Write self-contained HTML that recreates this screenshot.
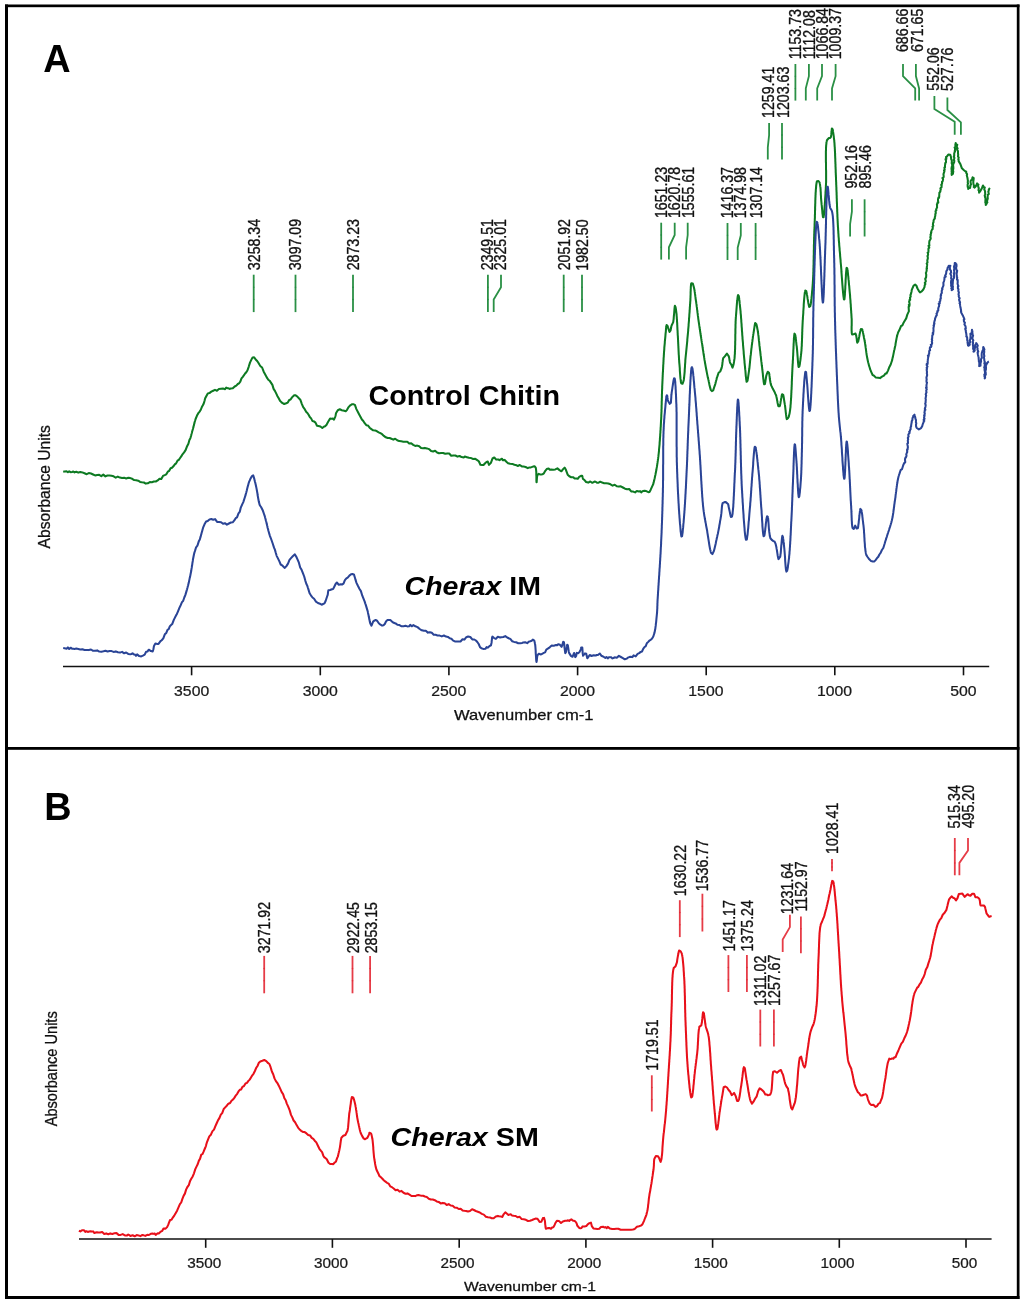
<!DOCTYPE html>
<html><head><meta charset="utf-8"><title>FTIR spectra</title>
<style>
html,body{margin:0;padding:0;background:#fff;}
body{width:1024px;height:1301px;overflow:hidden;}
svg{display:block;will-change:transform;}
text{font-family:"Liberation Sans",sans-serif;fill:#111;}
.lb{font-size:14.2px;stroke:#111;stroke-width:0.3px;}
.tk{fill:#1a1a1a;stroke:#1a1a1a;stroke-width:0.25px;}
.xl,.yl{stroke:#111;stroke-width:0.25px;}
.ax{stroke:#111;stroke-width:1.6;fill:none;}
.ti{font-weight:bold;fill:#000;}
.nm{font-weight:bold;fill:#000;}
</style></head><body>
<svg width="1024" height="1301" viewBox="0 0 1024 1301">
<rect x="0" y="0" width="1024" height="1301" fill="#fff"/>
<g fill="none" stroke-width="2.05" stroke-linejoin="round" stroke-linecap="butt">
<path d="M63.2,471.8 L64.6,471.5 L66.6,471.3 L67.9,472.3 L69.2,471.3 L70.6,472.2 L72.0,472.0 L73.3,471.5 L74.5,472.4 L76.3,471.7 L78.3,472.6 L80.3,472.1 L82.4,472.4 L84.5,473.2 L86.7,474.2 L88.8,473.1 L91.0,473.5 L93.1,474.5 L95.1,475.4 L97.2,474.9 L99.2,474.8 L101.3,476.1 L103.3,474.6 L105.4,476.4 L107.4,475.5 L109.5,475.5 L111.5,475.7 L113.6,476.3 L115.7,477.6 L117.8,476.6 L119.9,477.6 L122.0,478.0 L124.2,477.8 L126.2,478.4 L128.3,477.8 L130.3,478.1 L132.2,478.8 L134.2,480.1 L136.2,480.2 L138.2,480.7 L140.1,481.9 L142.0,482.3 L143.9,482.5 L145.8,483.6 L147.8,483.3 L149.8,482.1 L151.9,482.2 L153.9,481.5 L155.8,481.5 L157.7,480.4 L159.5,478.7 L161.3,478.9 L163.0,475.9 L164.7,475.1 L166.3,474.3 L167.8,471.7 L169.2,470.8 L170.6,468.3 L172.0,467.8 L173.4,466.3 L174.8,464.4 L176.1,463.4 L177.5,460.7 L178.8,459.8 L180.1,458.0 L181.4,456.2 L182.5,454.3 L184.1,452.4 L185.7,449.9 L187.1,446.2 L188.4,443.7 L189.5,439.7 L190.2,438.6 L190.5,437.7 L190.8,436.7 L191.1,435.7 L191.3,434.7 L191.6,433.8 L191.9,432.8 L192.1,431.8 L192.4,430.8 L192.7,429.8 L193.0,428.8 L193.2,427.9 L193.5,426.9 L193.7,425.9 L194.0,424.9 L194.2,423.9 L194.5,422.9 L194.7,421.9 L195.0,421.0 L195.3,420.0 L195.6,419.0 L197.0,415.6 L198.6,412.7 L199.7,411.6 L200.9,409.5 L202.0,406.7 L203.4,404.3 L204.1,402.4 L204.4,401.3 L204.7,400.3 L204.9,399.3 L205.2,398.3 L206.4,396.0 L207.8,393.4 L209.4,393.1 L211.3,391.6 L213.2,390.7 L215.0,389.9 L216.9,390.7 L218.9,389.0 L220.9,388.8 L223.0,388.6 L225.1,389.2 L226.2,387.6 L227.4,388.2 L228.5,388.3 L229.6,388.9 L230.7,388.6 L232.8,388.3 L234.7,386.5 L236.3,385.6 L237.8,384.0 L239.0,383.3 L240.3,381.7 L241.5,378.4 L242.8,376.8 L244.0,375.2 L245.1,373.5 L246.3,372.2 L247.4,370.5 L248.7,366.8 L250.0,362.6 L251.3,359.9 L252.6,357.4 L254.1,357.3 L255.5,359.2 L256.9,360.7 L258.2,362.5 L259.4,364.5 L260.5,366.2 L262.1,367.5 L263.7,371.7 L265.1,374.2 L266.6,377.1 L268.3,379.7 L269.6,380.7 L270.9,382.6 L272.4,384.9 L273.6,388.9 L274.9,390.9 L276.4,393.9 L277.5,396.2 L278.7,398.3 L280.0,400.8 L281.3,402.1 L282.6,403.2 L284.2,404.0 L286.2,403.3 L287.8,402.6 L289.2,400.0 L290.6,399.5 L292.0,397.4 L294.2,395.2 L295.3,395.2 L297.1,396.4 L298.9,398.3 L300.3,399.7 L301.8,403.8 L303.2,407.2 L304.7,409.2 L306.3,412.0 L307.4,413.0 L308.6,414.8 L309.8,417.0 L311.1,418.4 L312.5,421.1 L314.0,421.4 L315.5,422.6 L317.0,425.7 L318.4,426.0 L320.4,426.5 L322.3,428.0 L323.8,426.7 L325.1,426.3 L326.4,425.1 L327.6,422.8 L328.9,420.6 L330.1,418.6 L331.5,418.7 L332.8,418.6 L334.0,419.6 L335.3,416.6 L335.6,415.5 L335.8,414.3 L336.1,413.1 L337.8,410.2 L339.8,409.3 L341.8,410.2 L344.3,410.8 L345.7,411.3 L346.9,410.1 L348.6,407.1 L350.3,405.3 L352.2,404.2 L353.7,404.3 L354.9,404.9 L356.4,409.1 L357.9,412.0 L359.2,414.4 L360.7,417.3 L361.9,419.5 L363.3,421.0 L364.7,423.2 L366.3,425.2 L368.0,425.5 L369.6,427.7 L371.4,429.1 L373.2,430.3 L375.1,430.4 L377.0,431.3 L378.7,432.3 L380.4,433.2 L382.1,434.2 L383.9,435.9 L385.8,437.3 L387.7,438.0 L389.6,438.0 L391.4,438.8 L393.3,439.6 L395.2,438.7 L397.2,440.2 L399.2,441.1 L401.2,441.3 L403.3,441.7 L405.3,441.7 L407.3,441.7 L409.2,443.5 L411.2,443.3 L413.2,444.9 L415.2,445.9 L417.2,445.6 L419.2,446.3 L421.1,448.1 L423.0,448.3 L424.9,447.9 L426.9,448.4 L429.0,449.1 L431.1,451.1 L433.1,451.5 L435.1,450.7 L437.1,452.5 L439.0,453.3 L441.1,453.1 L443.1,453.0 L445.2,453.8 L447.2,453.4 L449.2,453.5 L451.2,455.7 L453.3,455.4 L455.4,455.5 L457.5,456.6 L459.6,456.0 L461.6,457.1 L463.7,457.5 L464.8,456.6 L466.9,457.2 L469.0,457.8 L471.1,458.1 L473.2,459.0 L475.3,458.8 L477.2,460.1 L478.8,461.3 L480.4,464.7 L482.0,464.9 L483.5,465.0 L485.1,463.2 L486.5,462.0 L487.8,461.6 L489.0,464.9 L490.9,462.9 L492.1,459.7 L492.5,458.5 L494.3,457.5 L496.2,459.6 L498.3,459.5 L499.5,460.1 L500.7,459.3 L501.9,458.7 L503.0,460.3 L504.7,459.9 L506.4,461.7 L508.1,463.3 L510.1,463.8 L512.3,463.9 L514.4,464.8 L516.6,465.3 L517.7,466.0 L519.8,465.0 L521.8,466.4 L523.6,466.6 L525.6,467.0 L527.8,468.1 L528.9,467.6 L530.9,467.4 L533.0,466.6 L534.7,466.2 L535.8,467.9 L536.0,469.2 L536.1,470.0 L536.2,471.1 L536.3,472.2 L536.3,473.6 L536.3,474.9 L536.4,476.3 L536.4,477.7 L536.4,478.9 L536.4,480.1 L536.4,481.1 L536.5,481.8 L536.5,482.3 L536.7,482.2 L536.7,481.4 L536.8,480.2 L536.9,478.8 L537.0,477.4 L537.2,476.1 L537.5,475.0 L538.8,473.9 L540.0,474.4 L541.2,474.5 L542.4,474.3 L543.9,473.3 L545.3,470.8 L546.7,469.1 L548.6,468.5 L549.9,469.8 L551.2,469.6 L553.2,469.7 L555.3,469.4 L557.4,468.4 L559.5,470.1 L561.4,471.3 L563.1,469.1 L564.6,467.6 L565.9,469.8 L567.3,473.6 L567.7,474.8 L569.3,476.3 L571.2,477.2 L573.3,477.2 L574.4,478.4 L576.8,478.6 L578.0,478.6 L579.2,476.8 L581.0,475.8 L582.1,475.7 L582.4,476.4 L582.7,477.8 L583.0,479.0 L584.3,479.9 L586.1,482.0 L588.2,482.6 L590.3,481.5 L592.3,482.8 L594.5,481.6 L595.7,481.8 L597.0,482.8 L598.6,482.7 L600.3,481.7 L602.1,482.6 L604.1,483.2 L606.2,483.3 L608.3,483.5 L610.5,484.3 L612.6,485.6 L614.7,484.7 L616.8,486.3 L618.8,486.6 L620.8,486.3 L622.9,487.5 L625.0,488.7 L627.1,489.2 L629.2,489.0 L631.2,491.4 L633.2,491.6 L635.1,492.4 L636.8,491.0 L638.9,491.5 L640.1,491.1 L641.2,492.4 L642.4,491.3 L644.4,490.8 L646.2,491.1 L648.4,492.2 L649.5,492.0 L650.7,489.7 L652.3,486.1 L653.2,484.3 L653.4,483.4 L653.7,482.4 L653.9,481.4 L654.2,480.4 L654.4,479.3 L654.7,478.2 L654.9,477.1 L655.1,476.0 L655.4,474.9 L655.6,473.8 L655.8,472.7 L656.0,471.7 L656.2,470.8 L656.4,469.8 L656.5,468.9 L656.7,467.9 L656.9,466.9 L657.0,465.9 L657.2,465.0 L657.3,464.0 L657.5,462.9 L657.6,461.9 L657.8,460.9 L657.9,459.8 L658.1,458.7 L658.2,457.6 L658.4,456.4 L658.5,455.2 L658.6,454.4 L658.7,453.5 L658.8,452.6 L658.9,451.7 L659.0,450.8 L659.0,449.9 L659.1,448.9 L659.2,448.0 L659.3,447.0 L659.4,446.0 L659.5,445.0 L659.6,444.0 L659.6,443.0 L659.7,441.9 L659.8,440.9 L659.9,439.9 L659.9,438.8 L660.0,437.8 L660.1,436.7 L660.2,435.6 L660.2,434.6 L660.3,433.5 L660.4,432.5 L660.4,431.4 L660.5,430.3 L660.6,429.3 L660.6,428.2 L660.7,427.2 L660.8,426.1 L660.8,425.1 L660.9,424.0 L660.9,423.0 L661.0,422.0 L661.0,421.0 L661.1,420.0 L661.2,419.0 L661.2,417.9 L661.3,416.9 L661.3,415.9 L661.3,414.8 L661.4,413.8 L661.4,412.8 L661.5,411.8 L661.5,410.7 L661.5,409.7 L661.6,408.7 L661.6,407.7 L661.6,406.7 L661.6,405.7 L661.7,404.6 L661.7,403.6 L661.7,402.6 L661.7,401.6 L661.8,400.6 L661.8,399.6 L661.8,398.5 L661.9,397.5 L661.9,396.5 L661.9,395.5 L661.9,394.5 L662.0,393.4 L662.0,392.4 L662.0,391.4 L662.1,390.3 L662.1,389.3 L662.2,388.2 L662.2,387.2 L662.2,386.2 L662.3,385.2 L662.3,384.1 L662.4,383.1 L662.4,382.0 L662.5,380.9 L662.5,379.9 L662.6,378.8 L662.6,377.7 L662.7,376.6 L662.7,375.5 L662.8,374.4 L662.8,373.3 L662.9,372.2 L663.0,371.1 L663.0,370.0 L663.1,368.9 L663.1,367.8 L663.2,366.7 L663.2,365.6 L663.3,364.5 L663.4,363.5 L663.4,362.4 L663.5,361.4 L663.5,360.4 L663.6,359.4 L663.6,358.4 L663.7,357.4 L663.8,356.5 L663.8,355.6 L663.9,354.7 L663.9,353.8 L664.0,352.9 L664.0,352.1 L664.1,351.3 L664.2,350.1 L664.3,348.9 L664.3,347.8 L664.4,346.8 L664.5,345.8 L664.6,344.8 L664.7,343.8 L664.8,342.9 L664.8,341.9 L664.9,341.0 L665.0,340.1 L665.1,339.1 L665.2,338.2 L665.3,337.2 L665.4,336.0 L665.5,334.7 L665.6,333.4 L665.8,332.0 L665.9,330.5 L666.0,329.2 L666.1,327.9 L666.3,326.8 L666.4,325.8 L666.6,325.1 L667.6,326.0 L668.0,327.4 L669.5,332.0 L670.6,330.4 L670.8,329.2 L671.1,327.8 L671.3,326.5 L671.6,325.5 L673.1,322.4 L673.3,321.6 L673.4,320.6 L673.6,319.5 L673.7,318.3 L673.8,316.9 L673.9,315.6 L674.1,314.1 L674.2,312.7 L674.3,311.3 L674.4,310.0 L674.5,308.8 L674.6,307.8 L674.7,306.9 L674.8,306.2 L674.9,305.8 L675.4,306.7 L675.7,307.8 L675.9,309.2 L676.1,310.7 L676.3,312.2 L676.4,312.9 L676.5,313.7 L676.6,314.5 L676.6,315.4 L676.7,316.3 L676.8,317.2 L676.8,318.2 L676.9,319.2 L677.0,320.2 L677.0,321.3 L677.1,322.3 L677.2,323.4 L677.2,324.5 L677.3,325.6 L677.3,326.7 L677.4,327.9 L677.4,329.0 L677.5,330.1 L677.6,331.2 L677.6,332.3 L677.7,333.4 L677.7,334.5 L677.8,335.6 L677.9,336.6 L677.9,337.5 L678.0,338.5 L678.0,339.5 L678.1,340.5 L678.1,341.6 L678.2,342.6 L678.2,343.6 L678.3,344.6 L678.3,345.7 L678.4,346.7 L678.4,347.7 L678.5,348.8 L678.5,349.8 L678.6,350.9 L678.6,351.9 L678.7,352.9 L678.7,354.0 L678.8,355.0 L678.9,356.0 L678.9,357.0 L679.0,358.0 L679.0,359.0 L679.1,360.0 L679.2,361.0 L679.2,361.9 L679.3,362.9 L679.4,363.8 L679.5,364.9 L679.6,366.1 L679.7,367.4 L679.8,368.7 L679.8,370.0 L679.9,371.4 L680.0,372.7 L680.1,374.0 L680.2,375.3 L680.3,376.6 L680.4,377.8 L680.5,378.9 L680.7,380.0 L680.8,381.0 L680.9,381.8 L681.0,382.6 L681.2,383.2 L682.5,383.8 L683.5,381.2 L683.6,380.6 L683.8,379.9 L683.9,379.2 L684.0,378.3 L684.1,377.5 L684.2,376.5 L684.3,375.5 L684.4,374.5 L684.5,373.5 L684.6,372.4 L684.7,371.2 L684.7,370.1 L684.8,368.9 L684.9,367.7 L685.0,366.5 L685.0,365.4 L685.1,364.2 L685.2,363.0 L685.3,361.9 L685.3,360.7 L685.4,359.6 L685.5,358.5 L685.6,357.5 L685.7,356.5 L685.8,355.5 L685.9,354.5 L686.0,353.6 L686.1,352.6 L686.2,351.6 L686.3,350.6 L686.4,349.6 L686.5,348.6 L686.6,347.7 L686.7,346.7 L686.8,345.7 L686.9,344.7 L687.0,343.7 L687.1,342.7 L687.2,341.7 L687.3,340.7 L687.3,339.7 L687.4,338.7 L687.5,337.7 L687.6,336.7 L687.7,335.6 L687.8,334.6 L687.9,333.6 L688.0,332.5 L688.1,331.5 L688.2,330.6 L688.2,329.6 L688.3,328.6 L688.4,327.6 L688.5,326.6 L688.6,325.5 L688.6,324.5 L688.7,323.5 L688.8,322.4 L688.9,321.4 L689.0,320.3 L689.0,319.2 L689.1,318.2 L689.2,317.1 L689.3,316.1 L689.3,315.0 L689.4,314.0 L689.5,312.9 L689.6,311.9 L689.6,310.9 L689.7,309.9 L689.8,308.9 L689.8,307.9 L689.9,306.9 L690.0,305.9 L690.0,305.0 L690.1,304.0 L690.2,303.1 L690.2,302.2 L690.3,301.3 L690.4,300.1 L690.4,298.8 L690.5,297.5 L690.5,296.2 L690.6,294.8 L690.6,293.5 L690.6,292.1 L690.7,290.8 L690.7,289.5 L690.8,288.3 L690.8,287.2 L690.9,286.2 L691.0,285.2 L691.0,284.4 L691.1,283.8 L691.3,283.3 L692.8,283.5 L693.8,287.0 L694.0,287.8 L694.2,288.7 L694.4,289.7 L694.6,290.7 L694.7,291.7 L694.9,292.8 L695.0,293.9 L695.2,295.1 L695.3,296.2 L695.5,297.4 L695.6,298.6 L695.8,299.7 L695.9,300.6 L696.1,301.5 L696.2,302.5 L696.3,303.4 L696.5,304.4 L696.6,305.4 L696.7,306.4 L696.9,307.5 L697.0,308.5 L697.1,309.6 L697.3,310.6 L697.4,311.7 L697.5,312.7 L697.7,313.8 L697.8,314.9 L697.9,315.9 L698.1,317.0 L698.2,318.0 L698.3,319.1 L698.5,320.1 L698.6,321.1 L698.8,322.1 L698.9,323.1 L699.1,324.1 L699.2,325.2 L699.4,326.2 L699.5,327.3 L699.7,328.3 L699.8,329.3 L700.0,330.3 L700.1,331.3 L700.3,332.3 L700.4,333.3 L700.6,334.3 L700.7,335.3 L700.9,336.4 L701.1,337.4 L701.2,338.4 L701.4,339.4 L701.5,340.4 L701.7,341.4 L701.8,342.4 L702.0,343.4 L702.2,344.4 L702.3,345.5 L702.5,346.5 L702.6,347.5 L702.8,348.6 L702.9,349.6 L703.1,350.6 L703.3,351.7 L703.4,352.7 L703.6,353.8 L703.7,354.8 L703.9,355.8 L704.1,356.9 L704.2,357.9 L704.4,358.9 L704.5,359.9 L704.7,360.9 L704.9,361.9 L705.0,362.8 L705.2,363.8 L705.4,364.9 L705.6,366.0 L705.8,367.1 L706.0,368.2 L706.2,369.2 L706.4,370.3 L706.6,371.3 L706.8,372.4 L707.0,373.4 L707.2,374.4 L707.4,375.4 L707.6,376.4 L707.8,377.4 L708.1,378.4 L708.3,379.4 L708.6,380.5 L708.8,381.7 L709.1,382.9 L709.3,384.2 L709.6,385.4 L709.9,386.7 L710.2,387.9 L710.5,388.9 L710.7,389.9 L711.9,391.1 L713.2,390.4 L714.5,386.3 L715.1,384.6 L715.4,383.7 L715.6,382.6 L715.9,381.6 L716.2,380.5 L716.5,379.5 L716.7,378.4 L717.0,377.4 L717.4,376.4 L718.6,372.7 L720.2,371.5 L721.6,368.0 L721.9,366.8 L722.1,365.7 L722.3,364.6 L722.4,363.5 L722.5,362.3 L722.7,361.2 L722.8,360.1 L723.0,359.1 L723.2,358.2 L724.8,356.3 L726.9,353.6 L728.3,355.5 L728.9,356.8 L729.2,358.1 L729.4,359.4 L729.6,360.8 L729.9,362.0 L730.2,363.0 L731.4,364.8 L732.5,367.6 L733.3,365.3 L733.6,364.3 L733.8,363.1 L734.0,361.9 L734.2,360.5 L734.4,359.1 L734.5,358.5 L734.6,357.8 L734.6,357.1 L734.7,356.3 L734.7,355.6 L734.8,354.7 L734.9,353.9 L734.9,353.0 L734.9,352.1 L735.0,351.1 L735.0,350.1 L735.1,349.1 L735.1,348.1 L735.1,347.0 L735.1,346.0 L735.2,344.9 L735.2,343.8 L735.2,342.7 L735.2,341.5 L735.3,340.4 L735.3,339.3 L735.3,338.1 L735.3,337.0 L735.3,335.8 L735.3,334.7 L735.4,333.5 L735.4,332.4 L735.4,331.2 L735.4,330.1 L735.4,329.0 L735.5,327.8 L735.5,326.7 L735.5,325.7 L735.5,324.6 L735.6,323.5 L735.6,322.5 L735.6,321.5 L735.7,320.5 L735.7,319.6 L735.8,318.7 L735.8,317.8 L735.9,316.9 L736.0,315.7 L736.1,314.4 L736.2,313.2 L736.3,311.8 L736.4,310.5 L736.5,309.1 L736.6,307.8 L736.7,306.4 L736.8,305.1 L736.9,303.8 L737.0,302.6 L737.1,301.4 L737.3,300.3 L737.4,299.2 L737.5,298.2 L737.6,297.4 L737.7,296.6 L737.8,295.9 L738.0,295.4 L738.1,295.0 L738.7,295.8 L738.9,296.5 L739.0,297.5 L739.2,298.6 L739.3,299.7 L739.5,301.0 L739.6,302.4 L739.7,303.7 L739.9,305.1 L740.0,306.5 L740.2,307.8 L740.3,309.1 L740.4,309.9 L740.5,310.8 L740.6,311.7 L740.6,312.6 L740.7,313.5 L740.8,314.4 L740.9,315.4 L741.0,316.4 L741.0,317.4 L741.1,318.4 L741.2,319.4 L741.3,320.4 L741.3,321.5 L741.4,322.5 L741.5,323.6 L741.6,324.6 L741.6,325.7 L741.7,326.8 L741.8,327.9 L741.9,328.9 L741.9,330.0 L742.0,331.1 L742.1,332.1 L742.2,333.2 L742.2,334.2 L742.3,335.3 L742.4,336.3 L742.5,337.3 L742.5,338.3 L742.6,339.3 L742.7,340.3 L742.8,341.4 L742.9,342.4 L743.0,343.5 L743.0,344.6 L743.1,345.7 L743.2,346.7 L743.3,347.8 L743.4,348.9 L743.5,350.0 L743.6,351.0 L743.7,352.1 L743.7,353.1 L743.8,354.2 L743.9,355.2 L744.0,356.3 L744.1,357.3 L744.2,358.3 L744.3,359.3 L744.4,360.3 L744.5,361.3 L744.5,362.3 L744.6,363.2 L744.7,364.2 L744.8,365.1 L744.9,366.0 L745.0,366.9 L745.1,368.1 L745.2,369.4 L745.4,370.7 L745.5,372.1 L745.6,373.4 L745.7,374.8 L745.8,376.1 L746.0,377.3 L746.1,378.5 L746.2,379.5 L746.4,380.4 L746.5,381.2 L746.6,381.7 L747.5,380.7 L747.7,379.7 L747.9,378.5 L748.1,377.1 L748.3,375.7 L748.5,374.3 L748.7,372.9 L748.9,371.6 L749.0,370.8 L749.1,369.9 L749.3,369.0 L749.4,368.1 L749.5,367.1 L749.6,366.1 L749.7,365.1 L749.8,364.1 L749.9,363.1 L750.0,362.0 L750.1,361.0 L750.2,359.9 L750.3,358.9 L750.4,357.8 L750.5,356.7 L750.6,355.7 L750.8,354.7 L750.9,353.6 L751.0,352.6 L751.1,351.6 L751.2,350.6 L751.3,349.7 L751.4,348.6 L751.6,347.6 L751.7,346.5 L751.8,345.4 L752.0,344.3 L752.1,343.3 L752.2,342.2 L752.4,341.2 L752.5,340.2 L752.6,339.2 L752.8,338.2 L752.9,337.2 L753.0,336.2 L753.2,335.2 L753.3,334.3 L753.5,333.4 L753.6,332.5 L753.8,331.3 L754.0,330.0 L754.2,328.6 L754.4,327.3 L754.6,326.0 L754.8,324.8 L755.0,323.8 L755.2,323.0 L756.4,324.2 L756.7,325.4 L757.0,326.7 L757.2,328.1 L757.5,329.4 L757.7,330.2 L757.8,331.1 L757.9,332.0 L758.1,332.9 L758.2,333.9 L758.3,334.9 L758.5,336.0 L758.6,337.0 L758.7,338.1 L758.8,339.2 L758.9,340.4 L759.1,341.5 L759.2,342.6 L759.3,343.7 L759.4,344.8 L759.5,345.9 L759.7,347.0 L759.8,348.1 L759.9,349.1 L760.0,350.1 L760.2,351.1 L760.3,352.1 L760.4,353.2 L760.5,354.2 L760.6,355.2 L760.8,356.3 L760.9,357.3 L761.0,358.3 L761.1,359.4 L761.2,360.4 L761.3,361.4 L761.5,362.4 L761.6,363.5 L761.7,364.5 L761.8,365.5 L762.0,366.5 L762.1,367.4 L762.2,368.4 L762.3,369.5 L762.5,370.8 L762.6,372.1 L762.8,373.4 L762.9,374.8 L763.0,376.1 L763.2,377.5 L763.3,378.8 L763.5,380.0 L763.6,381.1 L763.7,382.1 L763.9,383.0 L764.0,383.8 L764.2,384.3 L764.9,384.0 L765.1,383.1 L765.3,382.0 L765.5,380.7 L765.7,379.3 L765.9,378.0 L766.1,376.7 L766.3,375.6 L766.6,374.7 L767.8,371.7 L769.0,372.7 L769.2,373.6 L769.4,374.7 L769.5,375.9 L769.7,377.2 L769.8,378.5 L770.0,379.8 L770.2,381.0 L770.4,382.2 L770.6,383.2 L770.8,384.1 L771.2,385.4 L772.6,388.2 L774.3,391.4 L775.5,394.2 L776.1,395.2 L776.3,396.3 L776.6,397.6 L776.9,398.9 L777.1,400.3 L777.4,401.6 L777.6,403.0 L777.9,404.2 L778.1,405.3 L778.4,406.2 L779.6,406.3 L779.9,405.8 L780.1,404.7 L780.4,403.4 L780.6,401.9 L780.9,400.4 L781.1,398.9 L781.4,397.5 L781.6,396.2 L781.8,395.1 L782.1,394.2 L783.2,394.8 L783.4,395.7 L783.6,396.8 L783.8,398.0 L784.0,399.3 L784.2,400.7 L784.4,402.0 L784.6,403.2 L784.8,404.4 L785.0,405.4 L785.1,406.5 L785.3,407.8 L785.4,409.1 L785.6,410.4 L785.7,411.8 L785.9,413.1 L786.0,414.4 L786.2,415.6 L786.3,416.7 L786.5,417.7 L786.6,418.5 L786.8,419.1 L787.9,418.2 L788.8,416.7 L789.1,415.3 L789.5,413.8 L789.6,413.3 L789.7,412.7 L789.8,412.1 L789.9,411.4 L790.0,410.7 L790.1,410.0 L790.2,409.2 L790.3,408.4 L790.4,407.6 L790.5,406.8 L790.5,405.9 L790.6,404.9 L790.7,404.0 L790.8,403.0 L790.8,402.0 L790.9,401.0 L791.0,400.0 L791.0,398.9 L791.1,397.8 L791.2,396.8 L791.2,395.7 L791.3,394.5 L791.3,393.4 L791.4,392.3 L791.4,391.1 L791.5,390.0 L791.6,388.8 L791.6,387.6 L791.7,386.5 L791.7,385.3 L791.8,384.1 L791.8,382.9 L791.8,381.8 L791.9,380.6 L791.9,379.4 L792.0,378.3 L792.0,377.2 L792.1,376.0 L792.1,374.9 L792.2,373.8 L792.2,372.7 L792.3,371.6 L792.3,370.6 L792.4,369.5 L792.4,368.5 L792.5,367.5 L792.5,366.6 L792.6,365.6 L792.6,364.7 L792.7,363.8 L792.8,362.6 L792.8,361.4 L792.9,360.2 L793.0,358.9 L793.0,357.6 L793.1,356.2 L793.2,354.9 L793.2,353.5 L793.3,352.2 L793.3,350.8 L793.4,349.5 L793.5,348.1 L793.5,346.8 L793.6,345.5 L793.6,344.3 L793.7,343.1 L793.8,341.9 L793.8,340.8 L793.9,339.7 L793.9,338.7 L794.0,337.7 L794.1,336.9 L794.2,336.1 L794.2,335.4 L794.3,334.8 L794.4,334.3 L794.4,333.9 L794.5,333.6 L795.1,334.5 L795.3,335.3 L795.5,336.3 L795.6,337.5 L795.8,338.7 L796.0,340.1 L796.1,341.4 L796.3,342.9 L796.4,344.3 L796.6,345.6 L796.8,346.9 L796.9,348.1 L797.0,349.1 L797.1,350.2 L797.2,351.4 L797.3,352.7 L797.4,354.0 L797.5,355.3 L797.6,356.7 L797.7,358.0 L797.8,359.3 L797.9,360.6 L798.0,361.9 L798.1,363.0 L798.2,364.1 L798.3,365.0 L798.4,365.8 L798.5,366.5 L798.7,367.0 L799.4,366.4 L799.5,365.7 L799.7,364.8 L799.9,363.7 L800.0,362.6 L800.2,361.4 L800.4,360.1 L800.6,358.7 L800.7,357.3 L800.9,355.9 L801.0,354.6 L801.2,353.3 L801.3,352.0 L801.4,351.2 L801.5,350.3 L801.5,349.4 L801.6,348.6 L801.6,347.6 L801.7,346.7 L801.8,345.8 L801.8,344.8 L801.8,343.8 L801.9,342.8 L801.9,341.8 L802.0,340.8 L802.0,339.8 L802.0,338.8 L802.1,337.7 L802.1,336.7 L802.1,335.6 L802.2,334.6 L802.2,333.5 L802.2,332.4 L802.3,331.4 L802.3,330.3 L802.3,329.3 L802.4,328.2 L802.4,327.1 L802.5,326.1 L802.5,325.1 L802.6,324.0 L802.6,323.0 L802.7,322.0 L802.7,321.0 L802.8,320.0 L802.9,318.9 L802.9,317.8 L803.0,316.7 L803.1,315.5 L803.2,314.2 L803.3,313.0 L803.3,311.7 L803.4,310.3 L803.5,309.0 L803.6,307.7 L803.7,306.4 L803.7,305.0 L803.8,303.7 L803.9,302.4 L804.0,301.2 L804.1,299.9 L804.2,298.7 L804.3,297.6 L804.4,296.5 L804.5,295.5 L804.6,294.5 L804.7,293.6 L804.8,292.8 L804.9,292.1 L805.1,291.5 L805.2,290.9 L805.3,290.5 L806.3,291.2 L806.5,292.1 L806.7,293.2 L806.9,294.4 L807.2,295.8 L807.4,297.2 L807.6,298.7 L807.9,300.2 L808.1,301.6 L808.3,302.9 L808.6,304.2 L808.8,305.3 L809.0,306.2 L809.2,306.9 L810.3,306.2 L810.4,305.6 L810.6,304.8 L810.8,303.9 L810.9,302.9 L811.1,301.8 L811.2,300.7 L811.3,299.5 L811.5,298.2 L811.6,296.9 L811.8,295.5 L811.9,294.2 L812.0,292.8 L812.1,291.4 L812.3,290.0 L812.4,288.6 L812.5,287.3 L812.6,286.0 L812.7,285.2 L812.7,284.4 L812.8,283.6 L812.8,282.8 L812.9,282.0 L812.9,281.1 L813.0,280.2 L813.0,279.3 L813.1,278.4 L813.1,277.5 L813.2,276.6 L813.2,275.6 L813.3,274.7 L813.3,273.7 L813.3,272.7 L813.4,271.7 L813.4,270.7 L813.4,269.7 L813.4,268.7 L813.5,267.7 L813.5,266.6 L813.5,265.6 L813.6,264.5 L813.6,263.5 L813.6,262.4 L813.6,261.3 L813.6,260.3 L813.7,259.2 L813.7,258.1 L813.7,257.0 L813.7,255.9 L813.8,254.8 L813.8,253.7 L813.8,252.6 L813.8,251.5 L813.8,250.4 L813.9,249.3 L813.9,248.2 L813.9,247.2 L813.9,246.1 L813.9,245.0 L814.0,243.9 L814.0,242.8 L814.0,241.7 L814.0,240.7 L814.1,239.6 L814.1,238.5 L814.1,237.5 L814.2,236.4 L814.2,235.4 L814.2,234.4 L814.3,233.3 L814.3,232.3 L814.3,231.3 L814.4,230.3 L814.4,229.3 L814.5,228.4 L814.5,227.4 L814.6,226.3 L814.6,225.2 L814.6,224.0 L814.7,222.8 L814.7,221.6 L814.8,220.4 L814.8,219.1 L814.9,217.8 L814.9,216.5 L814.9,215.2 L815.0,213.9 L815.0,212.6 L815.0,211.2 L815.1,209.9 L815.1,208.5 L815.1,207.2 L815.2,205.9 L815.2,204.5 L815.3,203.2 L815.3,201.9 L815.3,200.6 L815.4,199.3 L815.4,198.1 L815.5,196.8 L815.5,195.6 L815.6,194.4 L815.6,193.3 L815.7,192.2 L815.8,191.1 L815.8,190.0 L815.9,189.0 L816.0,188.1 L816.1,187.1 L816.1,186.3 L816.2,185.5 L816.3,184.7 L816.4,184.0 L816.5,183.3 L816.6,182.7 L816.7,182.2 L816.8,181.7 L817.0,181.3 L818.5,181.0 L819.6,182.5 L819.8,183.7 L820.0,184.4 L820.1,185.3 L820.2,186.2 L820.4,187.2 L820.5,188.3 L820.6,189.4 L820.6,190.5 L820.7,191.7 L820.8,192.9 L820.8,194.1 L820.9,195.3 L821.0,196.5 L821.0,197.7 L821.1,198.8 L821.2,199.9 L821.3,201.0 L821.4,202.0 L821.5,203.2 L821.6,204.4 L821.8,205.8 L821.9,207.1 L822.0,208.5 L822.2,209.9 L822.3,211.3 L822.4,212.6 L822.5,213.8 L822.7,214.9 L822.8,215.8 L822.9,216.6 L823.0,217.2 L823.6,217.2 L823.6,216.8 L823.7,216.3 L823.8,215.7 L823.9,215.0 L824.0,214.2 L824.1,213.4 L824.2,212.5 L824.3,211.5 L824.4,210.4 L824.5,209.3 L824.5,208.2 L824.6,207.0 L824.7,205.7 L824.8,204.5 L824.9,203.2 L825.0,201.9 L825.1,200.5 L825.1,199.2 L825.2,197.8 L825.3,196.5 L825.4,195.1 L825.5,193.8 L825.5,192.5 L825.6,191.2 L825.7,190.0 L825.8,188.7 L825.8,187.5 L825.9,186.4 L825.9,185.5 L826.0,184.5 L826.0,183.5 L826.1,182.5 L826.1,181.4 L826.1,180.3 L826.1,179.2 L826.1,178.0 L826.1,176.8 L826.1,175.6 L826.1,174.4 L826.1,173.2 L826.1,172.0 L826.1,170.7 L826.0,169.4 L826.0,168.2 L826.0,166.9 L826.0,165.6 L826.0,164.3 L826.0,163.1 L825.9,161.8 L825.9,160.6 L825.9,159.3 L825.9,158.1 L825.9,156.9 L825.9,155.7 L825.9,154.5 L825.9,153.3 L825.9,152.2 L825.9,151.1 L826.0,150.0 L826.0,149.0 L826.0,148.0 L826.1,147.0 L826.1,146.1 L826.2,145.2 L826.3,144.4 L826.4,143.6 L826.4,142.9 L826.5,142.2 L826.7,141.5 L826.8,140.9 L826.9,140.4 L827.1,140.0 L828.9,138.0 L830.2,138.0 L830.9,137.0 L831.1,135.8 L831.3,134.4 L831.4,132.9 L831.6,131.5 L831.7,130.2 L831.8,129.2 L831.9,128.5 L832.7,129.5 L832.9,130.4 L833.0,131.4 L833.2,132.6 L833.4,133.9 L833.6,135.3 L833.8,136.7 L833.9,138.1 L834.1,139.5 L834.2,140.2 L834.3,141.0 L834.3,141.7 L834.4,142.5 L834.5,143.3 L834.5,144.2 L834.6,145.0 L834.6,145.9 L834.7,146.8 L834.8,147.7 L834.8,148.7 L834.9,149.6 L834.9,150.6 L835.0,151.6 L835.0,152.6 L835.1,153.6 L835.1,154.7 L835.1,155.7 L835.2,156.8 L835.2,157.8 L835.3,158.9 L835.3,160.0 L835.3,161.1 L835.4,162.2 L835.4,163.3 L835.5,164.4 L835.5,165.5 L835.5,166.6 L835.6,167.7 L835.6,168.8 L835.7,169.9 L835.7,171.0 L835.7,172.1 L835.8,173.2 L835.8,174.3 L835.9,175.4 L835.9,176.5 L836.0,177.5 L836.0,178.6 L836.0,179.6 L836.1,180.5 L836.1,181.5 L836.2,182.5 L836.2,183.5 L836.2,184.5 L836.3,185.5 L836.3,186.5 L836.4,187.5 L836.4,188.5 L836.4,189.6 L836.5,190.6 L836.5,191.6 L836.6,192.6 L836.6,193.7 L836.6,194.7 L836.7,195.8 L836.7,196.8 L836.7,197.8 L836.8,198.9 L836.8,199.9 L836.8,201.0 L836.9,202.0 L836.9,203.1 L837.0,204.1 L837.0,205.2 L837.0,206.2 L837.1,207.3 L837.1,208.3 L837.2,209.4 L837.2,210.4 L837.2,211.4 L837.3,212.5 L837.3,213.5 L837.4,214.5 L837.4,215.5 L837.4,216.6 L837.5,217.6 L837.5,218.6 L837.6,219.6 L837.6,220.6 L837.7,221.6 L837.7,222.6 L837.8,223.6 L837.8,224.5 L837.9,225.5 L837.9,226.4 L838.0,227.4 L838.1,228.5 L838.1,229.5 L838.2,230.6 L838.3,231.6 L838.3,232.7 L838.4,233.7 L838.5,234.8 L838.5,235.8 L838.6,236.8 L838.7,237.8 L838.8,238.8 L838.8,239.8 L838.9,240.9 L839.0,241.9 L839.1,242.9 L839.2,243.9 L839.2,244.8 L839.3,245.8 L839.4,246.8 L839.5,247.8 L839.6,248.8 L839.6,249.8 L839.7,250.8 L839.8,251.7 L839.9,252.7 L840.0,253.7 L840.1,254.7 L840.1,255.7 L840.2,256.6 L840.3,257.6 L840.4,258.6 L840.5,259.6 L840.6,260.6 L840.6,261.5 L840.7,262.5 L840.8,263.5 L840.9,264.5 L841.0,265.5 L841.1,266.6 L841.2,267.8 L841.3,269.0 L841.4,270.2 L841.4,271.4 L841.5,272.7 L841.6,274.0 L841.7,275.3 L841.8,276.7 L841.9,278.0 L842.0,279.4 L842.1,280.7 L842.2,282.0 L842.3,283.3 L842.4,284.7 L842.5,285.9 L842.6,287.2 L842.7,288.4 L842.8,289.6 L842.9,290.7 L843.0,291.8 L843.1,292.9 L843.2,293.9 L843.3,294.8 L843.4,295.7 L843.5,296.5 L843.6,297.2 L843.7,297.8 L843.8,298.4 L843.8,298.8 L843.9,299.2 L844.0,299.5 L844.4,299.3 L844.5,298.9 L844.5,298.3 L844.6,297.6 L844.7,296.7 L844.8,295.8 L844.9,294.7 L844.9,293.5 L845.0,292.2 L845.1,290.9 L845.2,289.5 L845.3,288.1 L845.3,286.6 L845.4,285.1 L845.5,283.6 L845.6,282.1 L845.6,280.6 L845.7,279.1 L845.8,277.7 L845.9,276.3 L845.9,275.0 L846.0,273.7 L846.1,272.5 L846.2,271.5 L846.3,270.5 L846.4,269.6 L846.4,268.9 L846.5,268.3 L846.6,267.9 L847.1,268.2 L847.3,268.7 L847.4,269.4 L847.5,270.1 L847.6,271.0 L847.8,272.0 L847.9,273.0 L848.0,274.2 L848.1,275.3 L848.3,276.6 L848.4,277.9 L848.5,279.2 L848.7,280.5 L848.8,281.9 L848.9,283.2 L849.0,284.6 L849.2,285.9 L849.3,287.2 L849.4,288.5 L849.5,289.7 L849.6,290.8 L849.7,291.9 L849.8,292.9 L849.9,293.9 L850.0,294.9 L850.1,295.9 L850.1,296.9 L850.2,298.0 L850.3,299.0 L850.4,300.0 L850.5,301.1 L850.5,302.1 L850.6,303.2 L850.7,304.2 L850.8,305.2 L850.8,306.3 L850.9,307.3 L851.0,308.3 L851.0,309.3 L851.1,310.3 L851.2,311.3 L851.2,312.3 L851.3,313.3 L851.4,314.3 L851.4,315.2 L851.5,316.2 L851.5,317.1 L851.6,318.0 L851.7,319.1 L851.7,320.4 L851.7,321.6 L851.7,322.9 L851.7,324.2 L851.7,325.4 L851.6,326.7 L851.6,327.9 L851.6,329.1 L851.6,330.3 L851.7,331.3 L851.7,332.3 L851.8,333.1 L851.9,333.9 L852.1,334.5 L853.5,334.2 L855.5,333.6 L856.2,335.6 L856.4,336.8 L856.6,338.2 L856.8,339.6 L856.9,340.9 L857.1,342.0 L857.3,342.7 L858.2,341.5 L858.4,340.4 L858.7,339.2 L859.0,337.8 L859.3,336.4 L859.5,334.9 L859.8,333.5 L860.1,332.1 L860.4,330.9 L860.6,329.8 L860.9,329.0 L862.2,329.2 L862.5,330.5 L862.8,331.5 L863.0,332.7 L863.3,333.9 L863.5,335.3 L863.8,336.6 L864.0,337.9 L864.3,339.1 L864.5,339.9 L864.6,340.8 L864.8,341.8 L865.0,342.7 L865.1,343.7 L865.3,344.7 L865.4,345.8 L865.6,346.9 L865.7,347.9 L865.9,349.0 L866.0,350.1 L866.2,351.3 L866.3,352.4 L866.5,353.5 L866.6,354.6 L866.8,355.6 L867.0,356.7 L867.2,357.7 L867.4,358.8 L867.6,359.8 L867.8,360.7 L868.0,361.6 L868.2,362.5 L868.5,363.6 L868.8,364.8 L869.1,365.9 L869.5,367.0 L869.8,368.1 L870.1,369.2 L871.2,371.8 L872.6,375.0 L874.0,375.7 L875.9,377.6 L878.0,377.8 L880.0,378.1 L882.0,376.6 L883.9,375.6 L885.4,373.6 L886.5,373.5 L888.0,370.6 L889.4,366.9 L890.7,364.5 L891.6,361.8 L891.9,360.9 L892.2,359.9 L892.4,358.9 L892.6,357.9 L892.9,356.9 L893.1,355.9 L893.3,354.9 L893.5,353.9 L893.7,352.9 L893.9,351.9 L894.1,350.8 L894.4,349.8 L894.6,348.8 L894.8,347.8 L895.0,346.8 L895.3,345.7 L895.5,344.6 L895.6,343.5 L895.8,342.5 L896.0,341.4 L896.2,340.3 L896.4,339.2 L896.6,338.1 L896.8,337.1 L897.1,336.1 L897.3,335.0 L897.6,334.1 L897.9,333.1 L898.2,332.2 L899.4,330.1 L901.1,325.9 L902.3,325.5 L903.4,323.1 L904.9,320.5 L906.2,318.4 L907.3,314.6 L908.0,313.1 L908.8,311.4 L908.9,311.1 L908.8,309.6 L908.7,308.0 L908.6,307.0 L909.3,306.2 L908.8,304.9 L909.6,305.0 L909.5,303.0 L909.1,301.9 L909.5,300.6 L909.6,299.7 L910.2,299.8 L910.0,297.6 L910.7,296.7 L910.4,295.1 L910.7,294.6 L911.2,292.9 L911.6,291.2 L911.7,290.1 L912.3,288.7 L913.7,285.5 L915.1,284.6 L916.3,285.5 L917.5,288.5 L918.8,290.8 L920.0,292.4 L921.7,291.4 L923.3,289.5 L924.5,287.1 L924.7,285.2 L925.4,283.9 L925.3,283.7 L924.8,282.9 L925.8,281.5 L925.7,280.6 L925.2,278.9 L925.7,278.1 L926.2,276.8 L926.1,276.1 L926.3,275.0 L925.9,273.1 L925.9,272.7 L926.0,272.5 L926.5,271.3 L926.7,270.4 L926.6,268.3 L927.0,268.5 L926.8,267.1 L927.1,265.4 L927.2,264.6 L926.7,263.6 L927.4,262.4 L927.5,262.6 L927.3,260.5 L927.4,259.9 L927.8,258.7 L927.8,256.8 L927.4,256.0 L928.1,255.0 L928.0,253.4 L927.6,252.8 L928.3,252.4 L928.5,250.7 L928.4,249.9 L928.5,248.4 L929.1,247.5 L929.3,247.7 L928.5,245.9 L929.4,245.7 L929.2,243.5 L929.2,243.5 L929.3,241.9 L929.5,240.8 L930.5,239.2 L930.5,238.8 L930.8,238.1 L930.3,237.4 L930.8,235.0 L930.5,234.7 L931.1,233.4 L931.0,232.5 L931.4,232.3 L931.3,231.1 L932.3,229.1 L932.6,229.1 L932.8,227.4 L932.5,226.5 L933.4,225.8 L932.9,224.6 L933.1,222.9 L933.1,223.2 L933.5,222.3 L933.6,220.3 L934.1,219.2 L934.2,219.4 L934.9,218.2 L934.8,217.4 L935.3,215.8 L935.3,214.0 L935.6,213.7 L935.8,213.0 L935.5,211.1 L936.4,210.2 L936.1,209.6 L936.2,209.2 L937.1,207.4 L937.0,206.5 L937.1,205.7 L936.9,204.3 L937.1,204.5 L937.6,202.4 L938.3,202.7 L938.0,200.3 L938.0,199.3 L938.3,198.3 L938.4,197.6 L939.0,197.7 L939.3,196.0 L939.2,195.2 L939.4,193.9 L939.3,192.8 L940.4,191.5 L940.2,191.2 L940.8,189.5 L940.4,188.5 L940.7,187.8 L941.5,187.3 L941.7,185.0 L941.1,185.0 L942.1,183.6 L942.0,181.8 L942.1,182.3 L942.7,181.1 L943.1,179.1 L942.4,178.0 L943.1,177.8 L943.7,176.9 L943.6,176.0 L943.6,174.7 L943.4,174.1 L943.8,173.3 L944.4,171.4 L944.0,170.4 L944.7,169.9 L944.4,167.7 L945.0,167.3 L945.0,165.4 L945.3,163.8 L945.2,163.2 L946.0,162.3 L946.0,160.8 L945.5,159.3 L946.4,159.0 L946.0,157.0 L946.4,157.2 L948.3,154.6 L950.3,154.7 L951.2,157.8 L951.0,157.4 L951.2,159.2 L951.7,160.1 L951.9,162.4 L951.6,163.0 L952.2,164.6 L952.0,165.9 L951.5,168.2 L951.6,169.9 L951.8,170.0 L951.6,171.5 L952.0,173.4 L951.6,173.3 L951.7,174.9 L951.7,173.8 L952.1,173.7 L953.0,173.9 L953.0,173.3 L953.3,171.3 L952.7,171.3 L953.3,168.7 L953.4,168.1 L953.2,166.7 L953.1,164.8 L953.4,163.9 L954.2,162.1 L954.3,160.7 L953.8,160.1 L954.4,158.0 L953.8,156.5 L954.2,155.7 L954.2,153.4 L955.0,151.4 L954.7,151.3 L955.2,148.7 L954.6,147.6 L955.6,146.7 L955.6,146.8 L955.3,144.9 L956.0,144.6 L955.5,144.2 L955.7,143.0 L956.1,144.4 L957.1,144.9 L957.3,144.8 L956.7,146.6 L957.6,148.5 L957.1,148.6 L957.3,150.2 L958.0,151.1 L958.0,153.3 L958.2,154.7 L958.1,155.3 L958.0,156.6 L958.7,157.4 L958.3,159.6 L958.6,159.4 L958.6,161.1 L960.4,164.1 L961.9,168.3 L964.0,170.2 L965.9,171.7 L966.2,171.5 L966.3,173.2 L967.1,174.2 L966.8,175.4 L967.3,177.2 L967.6,178.8 L967.6,179.1 L967.9,180.8 L967.7,182.3 L968.0,183.4 L967.6,184.7 L967.7,186.9 L968.2,187.0 L968.2,188.9 L968.4,188.3 L970.0,187.9 L970.5,185.8 L970.3,185.6 L971.0,184.4 L970.5,181.9 L970.9,180.3 L972.1,179.6 L972.3,178.1 L972.6,177.3 L972.9,178.1 L973.7,178.1 L973.5,180.3 L973.3,181.4 L973.3,182.8 L973.6,184.9 L974.2,185.7 L973.7,187.0 L974.6,187.6 L975.8,186.3 L977.1,183.4 L978.4,184.7 L977.9,185.2 L978.4,187.3 L978.8,188.0 L978.5,190.3 L979.0,190.8 L979.1,192.7 L980.6,190.6 L981.9,188.2 L983.0,185.5 L984.1,187.4 L984.8,187.5 L984.2,189.3 L984.3,189.4 L985.1,191.4 L985.1,192.9 L985.3,194.5 L984.7,195.3 L985.2,197.8 L985.6,198.4 L985.4,200.2 L985.4,201.1 L985.3,202.8 L986.0,203.1 L985.7,204.9 L986.3,204.4 L986.3,204.1 L987.4,202.2 L986.7,201.6 L987.3,200.1 L987.8,198.5 L987.6,196.8 L987.9,194.7 L988.8,193.9 L988.3,191.6 L988.7,191.0 L988.8,189.5 L988.7,189.9 L989.4,188.6 L989.0,189.3" stroke="#0d7a22"/>
<path d="M63.2,648.1 L64.6,648.3 L66.6,648.7 L67.9,647.4 L69.2,649.0 L70.6,647.7 L72.0,648.7 L73.3,648.7 L74.5,648.9 L76.3,648.5 L78.3,648.9 L80.3,649.4 L82.4,649.3 L84.5,650.0 L86.7,649.9 L88.8,650.1 L91.0,649.5 L93.1,650.8 L95.1,650.8 L97.2,650.4 L99.3,651.6 L101.4,651.7 L103.5,651.3 L105.5,650.8 L107.6,651.5 L109.6,651.0 L111.6,651.1 L113.6,651.9 L115.8,651.4 L117.9,652.3 L120.0,652.6 L122.1,651.9 L124.1,653.3 L126.2,652.5 L128.2,653.9 L130.3,654.3 L131.4,654.0 L132.6,653.3 L133.7,654.4 L134.8,654.4 L136.0,655.8 L137.1,654.4 L139.2,656.1 L141.2,656.4 L142.9,655.6 L144.7,654.6 L146.1,651.7 L147.4,651.6 L148.8,649.7 L150.9,651.1 L152.7,651.5 L153.4,649.2 L153.6,648.1 L153.8,646.8 L154.1,645.7 L155.4,643.5 L157.4,643.9 L158.5,643.9 L160.5,641.1 L161.7,640.2 L163.3,638.4 L164.8,634.3 L166.3,632.9 L167.5,629.9 L168.7,629.2 L169.9,626.2 L171.1,625.1 L172.2,624.1 L173.8,619.9 L175.2,617.1 L176.6,614.6 L178.0,611.3 L179.4,607.9 L180.7,605.2 L182.0,602.2 L183.2,600.8 L184.3,597.5 L185.4,594.9 L186.5,591.1 L186.8,590.1 L187.1,589.2 L187.3,588.3 L187.6,587.3 L187.8,586.4 L188.1,585.5 L188.3,584.5 L188.5,583.6 L188.8,582.6 L189.0,581.6 L189.2,580.6 L189.4,579.6 L189.6,578.6 L189.8,577.6 L190.1,576.6 L190.3,575.6 L190.5,574.5 L190.7,573.5 L190.9,572.5 L191.1,571.5 L191.3,570.5 L191.4,569.5 L191.6,568.4 L191.8,567.4 L191.9,566.3 L192.1,565.2 L192.3,564.1 L192.4,563.0 L192.6,562.0 L192.8,560.9 L192.9,559.8 L193.1,558.8 L193.3,557.7 L193.5,556.7 L193.7,555.7 L193.9,554.7 L194.1,553.8 L194.4,552.9 L194.6,552.0 L195.0,550.9 L196.1,547.3 L197.4,545.7 L198.7,541.6 L199.8,539.5 L200.1,538.4 L200.4,537.4 L200.7,536.4 L201.0,535.3 L201.3,534.2 L201.6,533.1 L201.9,532.0 L202.2,530.9 L202.5,529.8 L202.8,528.7 L203.1,527.7 L204.5,524.3 L206.1,521.5 L207.7,521.0 L209.5,519.4 L211.3,519.0 L213.2,519.8 L215.1,519.1 L217.1,521.9 L219.1,522.0 L221.1,522.3 L223.0,523.8 L224.9,523.2 L226.9,524.6 L228.9,523.5 L230.9,522.5 L232.7,522.3 L234.3,520.4 L235.7,518.2 L237.0,517.4 L238.5,513.4 L239.7,511.9 L240.8,507.6 L242.2,504.4 L243.3,502.1 L244.7,497.7 L245.7,494.6 L245.9,493.6 L246.2,492.7 L246.5,491.6 L246.8,490.5 L247.0,489.4 L247.3,488.3 L247.6,487.1 L247.9,486.0 L248.2,484.9 L248.5,483.8 L248.8,482.8 L249.1,481.8 L250.3,479.1 L252.0,476.1 L253.2,475.4 L254.3,478.9 L254.6,480.2 L254.9,481.5 L255.3,482.9 L255.6,484.3 L255.9,485.6 L256.1,486.5 L256.3,487.4 L256.5,488.4 L256.7,489.4 L256.9,490.5 L257.1,491.6 L257.3,492.7 L257.5,493.8 L257.6,495.0 L257.8,496.1 L258.0,497.2 L258.2,498.4 L258.4,499.5 L258.6,500.5 L258.8,501.6 L259.1,502.6 L259.3,503.5 L259.5,504.4 L259.8,505.2 L261.2,507.3 L262.7,510.2 L264.0,514.0 L264.5,515.4 L264.8,516.3 L265.0,517.2 L265.3,518.2 L265.6,519.2 L265.8,520.2 L266.1,521.3 L266.4,522.3 L266.6,523.4 L266.9,524.4 L267.1,525.5 L267.4,526.6 L267.6,527.7 L267.9,528.7 L268.2,529.7 L268.4,530.8 L268.7,531.7 L269.0,532.7 L269.2,533.6 L269.5,534.5 L269.8,535.6 L271.3,539.5 L272.7,543.5 L274.1,547.9 L274.7,549.1 L275.0,550.1 L275.3,551.1 L275.6,552.2 L275.9,553.2 L276.2,554.2 L276.5,555.2 L276.8,556.1 L278.3,559.1 L279.4,561.4 L280.7,564.5 L282.1,565.3 L283.5,566.7 L284.8,567.9 L286.4,566.1 L288.0,563.6 L289.5,559.9 L291.0,558.1 L293.0,556.0 L294.9,554.4 L296.3,556.8 L297.6,559.6 L298.9,562.7 L300.2,567.4 L301.6,569.8 L303.1,573.6 L304.2,576.5 L305.3,580.6 L306.4,584.0 L307.1,585.4 L307.5,586.4 L307.8,587.5 L308.2,588.6 L308.5,589.6 L309.6,593.3 L310.9,595.3 L312.5,597.5 L314.1,598.7 L316.0,601.7 L317.9,603.0 L319.9,603.7 L321.6,604.7 L323.1,604.0 L324.5,603.4 L325.7,600.8 L327.1,596.5 L327.7,594.8 L327.9,593.6 L328.0,592.4 L328.2,591.2 L328.4,590.3 L330.0,590.0 L332.0,589.2 L333.2,588.9 L334.4,586.5 L335.6,584.0 L336.9,582.5 L338.8,584.8 L340.8,584.3 L342.1,584.5 L343.5,583.7 L344.9,580.2 L346.4,578.4 L347.7,577.6 L349.4,575.6 L351.0,574.3 L352.5,574.1 L353.9,574.4 L355.1,578.2 L355.4,579.4 L355.8,580.6 L356.2,581.9 L356.6,583.1 L357.9,585.8 L359.4,588.7 L360.9,591.1 L362.3,595.7 L363.7,599.2 L364.7,601.6 L365.0,602.6 L365.3,603.6 L365.7,604.6 L366.0,605.6 L366.3,606.6 L366.6,607.6 L366.9,608.6 L367.2,609.6 L367.5,610.6 L367.8,611.7 L368.0,612.9 L368.3,614.2 L368.6,615.5 L368.8,616.8 L369.1,618.0 L369.3,619.3 L369.6,620.5 L369.8,621.6 L370.1,622.6 L370.3,623.5 L371.5,625.7 L373.1,621.6 L374.3,620.6 L375.6,620.0 L377.1,620.7 L378.8,623.3 L380.5,624.7 L382.1,625.6 L383.5,625.3 L384.8,624.0 L386.0,621.5 L387.3,620.1 L388.7,619.9 L390.3,620.1 L392.0,621.6 L393.7,622.8 L395.6,623.4 L397.4,624.8 L399.5,625.1 L401.6,626.3 L403.6,626.2 L405.5,625.8 L407.3,626.4 L409.1,626.3 L410.2,624.8 L411.7,626.3 L413.4,625.1 L415.4,626.3 L417.5,627.1 L419.7,629.0 L421.8,630.3 L423.9,630.8 L425.8,630.8 L427.9,632.6 L429.9,632.2 L431.8,632.8 L433.7,634.7 L435.6,634.8 L437.5,635.4 L439.7,635.6 L441.8,636.4 L443.9,635.5 L446.0,636.6 L447.9,636.9 L449.7,638.3 L451.4,638.7 L453.2,640.6 L454.9,641.4 L456.7,641.6 L458.6,641.5 L460.5,641.5 L462.5,639.3 L464.4,639.6 L466.3,637.2 L468.1,636.5 L470.3,637.0 L472.3,639.4 L474.3,639.5 L475.9,640.5 L477.3,642.0 L478.7,644.0 L480.0,647.1 L481.4,648.3 L483.2,648.9 L485.4,648.8 L486.6,647.1 L487.7,647.7 L489.6,646.0 L490.9,645.4 L491.6,642.4 L491.7,641.0 L491.9,639.6 L492.0,638.4 L492.1,637.3 L492.4,636.6 L494.1,638.1 L495.9,638.9 L497.8,636.8 L500.1,637.5 L501.2,637.2 L503.3,637.0 L505.3,636.1 L507.2,637.5 L509.2,638.5 L510.3,638.9 L512.1,641.2 L514.1,641.9 L516.1,642.2 L518.2,643.2 L520.2,643.3 L522.0,642.9 L523.1,642.6 L525.2,642.3 L527.2,643.1 L529.1,641.5 L530.4,641.3 L531.7,640.8 L532.8,639.6 L534.3,640.6 L534.9,643.3 L535.0,644.0 L535.2,644.8 L535.3,645.9 L535.4,647.0 L535.5,648.3 L535.6,649.7 L535.7,651.1 L535.7,652.5 L535.8,653.9 L535.9,655.3 L536.0,656.7 L536.1,657.9 L536.1,659.0 L536.2,660.0 L536.3,660.8 L536.4,661.5 L536.5,661.9 L536.8,660.7 L536.9,659.5 L537.0,658.0 L537.2,656.6 L537.5,655.3 L538.8,653.7 L541.0,654.5 L542.1,653.8 L543.8,652.9 L545.1,652.4 L546.3,649.6 L547.8,648.7 L549.7,647.3 L551.7,645.5 L553.8,645.7 L555.9,645.1 L557.1,645.3 L558.2,644.2 L560.0,644.8 L561.6,646.8 L562.4,644.7 L562.8,643.2 L563.2,641.8 L563.9,642.2 L564.1,643.2 L564.2,644.5 L564.4,645.9 L564.5,647.4 L564.7,648.9 L564.9,650.3 L565.0,651.5 L565.2,652.5 L565.3,653.2 L565.9,652.3 L566.1,651.1 L566.3,649.7 L566.5,648.2 L566.8,646.7 L567.0,645.5 L567.2,644.7 L567.8,645.3 L568.0,646.3 L568.2,647.6 L568.4,649.0 L568.6,650.4 L568.8,651.7 L569.1,652.9 L570.9,655.9 L572.5,656.8 L574.1,653.0 L574.9,655.8 L575.3,657.1 L576.2,655.9 L576.4,654.3 L576.8,652.9 L578.1,653.2 L579.6,651.9 L580.4,650.1 L580.9,648.8 L581.2,647.5 L582.3,647.5 L582.4,648.8 L582.5,650.3 L582.6,651.9 L582.7,653.4 L582.9,654.7 L583.1,655.7 L585.0,653.4 L586.3,653.8 L586.6,655.6 L587.0,657.1 L587.3,658.3 L588.5,656.8 L589.7,655.0 L591.5,656.0 L593.6,655.2 L595.7,655.5 L596.8,655.0 L597.9,655.0 L599.8,653.5 L601.3,655.7 L603.1,656.5 L605.3,657.9 L606.5,657.0 L607.8,658.4 L608.9,657.2 L611.2,657.3 L612.4,658.4 L613.5,658.0 L614.7,657.3 L616.8,657.7 L618.9,655.9 L620.9,657.0 L622.9,658.1 L624.8,659.3 L626.9,658.6 L628.0,657.6 L629.2,657.1 L630.3,656.7 L632.4,657.1 L633.6,655.4 L635.7,656.4 L637.6,653.9 L639.2,653.1 L640.7,651.9 L642.0,651.5 L643.2,648.9 L644.5,647.0 L645.6,646.3 L646.8,643.3 L648.0,642.1 L649.3,640.7 L650.7,639.9 L652.1,638.5 L653.3,636.5 L654.1,634.0 L654.4,633.1 L654.6,632.2 L654.8,631.2 L655.0,630.2 L655.2,629.2 L655.4,628.1 L655.5,627.0 L655.7,625.9 L655.8,624.8 L655.9,623.6 L656.1,622.5 L656.2,621.4 L656.3,620.3 L656.4,619.2 L656.5,618.2 L656.6,617.1 L656.7,616.1 L656.8,615.2 L656.9,614.1 L657.0,613.1 L657.1,612.2 L657.1,611.2 L657.2,610.3 L657.2,609.4 L657.3,608.5 L657.3,607.6 L657.3,606.7 L657.4,605.7 L657.4,604.7 L657.4,603.6 L657.5,602.5 L657.5,601.3 L657.6,600.0 L657.6,599.3 L657.7,598.6 L657.7,597.9 L657.8,597.1 L657.8,596.3 L657.9,595.5 L657.9,594.7 L658.0,593.9 L658.0,593.0 L658.1,592.1 L658.1,591.3 L658.2,590.3 L658.3,589.4 L658.3,588.5 L658.4,587.5 L658.4,586.6 L658.5,585.6 L658.6,584.6 L658.6,583.6 L658.7,582.6 L658.8,581.6 L658.8,580.5 L658.9,579.5 L659.0,578.5 L659.0,577.4 L659.1,576.3 L659.2,575.3 L659.3,574.2 L659.3,573.1 L659.4,572.0 L659.5,570.9 L659.5,569.8 L659.6,568.7 L659.7,567.6 L659.8,566.5 L659.8,565.4 L659.9,564.3 L660.0,563.2 L660.0,562.1 L660.1,561.0 L660.2,559.9 L660.2,558.8 L660.3,557.7 L660.4,556.6 L660.4,555.5 L660.5,554.4 L660.6,553.3 L660.6,552.3 L660.7,551.2 L660.7,550.1 L660.8,549.1 L660.8,548.0 L660.9,547.0 L661.0,546.0 L661.0,545.0 L661.1,544.0 L661.1,543.0 L661.1,542.0 L661.2,540.9 L661.2,539.9 L661.3,538.9 L661.3,537.9 L661.4,536.8 L661.4,535.8 L661.5,534.8 L661.5,533.8 L661.6,532.8 L661.6,531.8 L661.6,530.8 L661.7,529.8 L661.7,528.8 L661.8,527.8 L661.8,526.8 L661.8,525.7 L661.9,524.7 L661.9,523.7 L662.0,522.7 L662.0,521.7 L662.0,520.7 L662.1,519.7 L662.1,518.7 L662.1,517.7 L662.2,516.7 L662.2,515.7 L662.2,514.7 L662.3,513.7 L662.3,512.7 L662.3,511.7 L662.4,510.7 L662.4,509.7 L662.4,508.7 L662.4,507.7 L662.5,506.7 L662.5,505.7 L662.5,504.7 L662.6,503.7 L662.6,502.7 L662.6,501.6 L662.6,500.6 L662.7,499.6 L662.7,498.6 L662.7,497.6 L662.8,496.5 L662.8,495.5 L662.8,494.5 L662.8,493.4 L662.9,492.4 L662.9,491.3 L662.9,490.3 L662.9,489.3 L662.9,488.3 L663.0,487.3 L663.0,486.3 L663.0,485.3 L663.0,484.3 L663.0,483.3 L663.0,482.2 L663.0,481.2 L663.1,480.1 L663.1,479.1 L663.1,478.0 L663.1,477.0 L663.1,475.9 L663.1,474.8 L663.1,473.8 L663.1,472.7 L663.1,471.6 L663.1,470.5 L663.1,469.4 L663.1,468.3 L663.1,467.2 L663.1,466.2 L663.1,465.1 L663.2,464.0 L663.2,462.9 L663.2,461.8 L663.2,460.7 L663.2,459.7 L663.2,458.6 L663.2,457.5 L663.2,456.4 L663.2,455.4 L663.2,454.3 L663.2,453.3 L663.2,452.2 L663.2,451.2 L663.2,450.1 L663.2,449.1 L663.2,448.1 L663.2,447.1 L663.2,446.1 L663.3,445.1 L663.3,444.1 L663.3,443.1 L663.3,442.2 L663.3,441.2 L663.3,440.3 L663.3,439.3 L663.3,438.4 L663.4,437.5 L663.4,436.6 L663.4,435.7 L663.4,434.9 L663.5,434.0 L663.5,433.2 L663.5,432.4 L663.5,431.6 L663.6,430.8 L663.6,430.0 L663.7,428.7 L663.7,427.5 L663.8,426.3 L663.8,425.2 L663.9,424.0 L664.0,422.9 L664.1,421.8 L664.1,420.7 L664.2,419.7 L664.3,418.7 L664.4,417.7 L664.4,416.7 L664.5,415.7 L664.6,414.7 L664.7,413.8 L664.8,412.9 L664.9,411.9 L664.9,411.0 L665.0,410.1 L665.1,409.3 L665.2,408.4 L665.3,407.5 L665.4,406.3 L665.5,404.9 L665.7,403.5 L665.8,402.1 L665.9,400.8 L666.1,399.5 L666.2,398.3 L666.3,397.2 L666.5,396.3 L666.6,395.6 L666.8,395.2 L667.3,396.1 L667.4,397.2 L667.6,398.5 L667.8,399.9 L668.1,401.1 L669.7,403.8 L670.8,402.9 L671.0,402.0 L671.0,400.9 L671.1,399.7 L671.2,398.4 L671.3,397.1 L671.3,395.8 L671.5,394.5 L671.6,393.4 L671.7,392.4 L671.9,391.2 L672.1,389.9 L672.3,388.6 L672.5,387.2 L672.7,385.8 L672.9,384.5 L673.1,383.1 L673.3,381.9 L673.5,380.8 L673.7,379.8 L673.9,379.0 L674.1,378.3 L674.7,378.4 L674.8,378.9 L674.9,379.4 L675.0,380.1 L675.1,380.9 L675.2,381.7 L675.3,382.7 L675.3,383.7 L675.4,384.8 L675.5,385.9 L675.6,387.1 L675.6,388.3 L675.7,389.6 L675.8,390.9 L675.8,392.3 L675.9,393.6 L676.0,394.9 L676.0,396.3 L676.1,397.6 L676.1,399.0 L676.2,400.3 L676.2,401.6 L676.3,402.8 L676.3,403.6 L676.4,404.4 L676.4,405.2 L676.4,406.0 L676.4,406.9 L676.5,407.7 L676.5,408.6 L676.5,409.5 L676.5,410.4 L676.5,411.3 L676.6,412.2 L676.6,413.2 L676.6,414.1 L676.6,415.1 L676.6,416.0 L676.6,417.0 L676.6,418.0 L676.6,419.0 L676.6,420.0 L676.6,421.0 L676.6,422.0 L676.6,423.0 L676.6,424.0 L676.6,425.1 L676.6,426.1 L676.6,427.1 L676.6,428.2 L676.6,429.2 L676.6,430.3 L676.6,431.4 L676.6,432.4 L676.6,433.5 L676.6,434.6 L676.6,435.6 L676.6,436.7 L676.6,437.8 L676.6,438.9 L676.6,439.9 L676.6,441.0 L676.6,442.1 L676.6,443.2 L676.6,444.2 L676.6,445.3 L676.6,446.4 L676.7,447.4 L676.7,448.5 L676.7,449.6 L676.7,450.6 L676.7,451.7 L676.7,452.7 L676.7,453.8 L676.7,454.8 L676.7,455.9 L676.7,456.9 L676.8,457.9 L676.8,458.9 L676.8,459.9 L676.8,460.9 L676.8,461.9 L676.9,462.9 L676.9,463.9 L676.9,464.9 L677.0,466.0 L677.0,467.0 L677.0,468.1 L677.1,469.2 L677.1,470.3 L677.1,471.3 L677.2,472.4 L677.2,473.5 L677.3,474.6 L677.3,475.7 L677.3,476.8 L677.4,477.9 L677.4,479.0 L677.5,480.1 L677.5,481.2 L677.6,482.3 L677.6,483.4 L677.7,484.5 L677.7,485.6 L677.7,486.7 L677.8,487.7 L677.8,488.8 L677.9,489.9 L677.9,491.0 L678.0,492.1 L678.0,493.1 L678.1,494.2 L678.2,495.3 L678.2,496.3 L678.3,497.4 L678.3,498.4 L678.4,499.4 L678.4,500.5 L678.5,501.5 L678.5,502.5 L678.6,503.5 L678.7,504.5 L678.7,505.4 L678.8,506.4 L678.8,507.3 L678.9,508.3 L678.9,509.2 L679.0,510.1 L679.1,511.0 L679.1,511.9 L679.2,512.8 L679.2,513.6 L679.3,514.5 L679.4,515.3 L679.4,516.1 L679.5,516.9 L679.5,517.6 L679.6,518.4 L679.7,519.7 L679.8,521.1 L679.9,522.5 L680.0,523.9 L680.2,525.3 L680.3,526.7 L680.4,528.0 L680.5,529.3 L680.6,530.6 L680.7,531.8 L680.9,532.8 L681.0,533.8 L681.1,534.7 L681.2,535.5 L681.3,536.1 L681.5,536.5 L682.1,536.1 L682.2,535.4 L682.3,534.7 L682.4,533.8 L682.6,532.8 L682.7,531.7 L682.8,530.5 L682.9,529.2 L683.1,527.9 L683.2,526.6 L683.3,525.2 L683.4,523.8 L683.6,522.4 L683.7,521.0 L683.8,519.7 L683.9,518.4 L684.0,517.6 L684.0,516.8 L684.1,515.9 L684.2,515.1 L684.2,514.2 L684.3,513.3 L684.4,512.4 L684.4,511.5 L684.5,510.6 L684.6,509.6 L684.6,508.7 L684.7,507.7 L684.8,506.7 L684.8,505.7 L684.9,504.7 L685.0,503.7 L685.0,502.7 L685.1,501.6 L685.1,500.6 L685.2,499.5 L685.3,498.5 L685.3,497.4 L685.4,496.4 L685.4,495.3 L685.5,494.2 L685.6,493.1 L685.6,492.0 L685.7,490.9 L685.7,489.9 L685.8,488.8 L685.9,487.7 L685.9,486.6 L686.0,485.5 L686.0,484.4 L686.1,483.3 L686.1,482.2 L686.2,481.1 L686.2,480.1 L686.3,479.0 L686.3,477.9 L686.4,476.9 L686.4,475.8 L686.5,474.8 L686.5,473.7 L686.6,472.7 L686.6,471.7 L686.7,470.7 L686.7,469.7 L686.8,468.7 L686.8,467.7 L686.9,466.7 L686.9,465.7 L687.0,464.7 L687.0,463.7 L687.0,462.7 L687.1,461.7 L687.1,460.7 L687.2,459.7 L687.2,458.7 L687.2,457.7 L687.3,456.7 L687.3,455.7 L687.3,454.7 L687.4,453.7 L687.4,452.7 L687.4,451.7 L687.5,450.7 L687.5,449.7 L687.6,448.7 L687.6,447.7 L687.6,446.7 L687.7,445.7 L687.7,444.7 L687.7,443.7 L687.8,442.6 L687.8,441.6 L687.8,440.6 L687.9,439.6 L687.9,438.6 L688.0,437.5 L688.0,436.5 L688.0,435.5 L688.1,434.4 L688.1,433.4 L688.2,432.4 L688.2,431.3 L688.3,430.3 L688.3,429.2 L688.3,428.2 L688.4,427.1 L688.4,426.1 L688.5,425.0 L688.5,424.0 L688.6,423.0 L688.6,422.0 L688.7,420.9 L688.7,419.8 L688.8,418.7 L688.8,417.5 L688.9,416.3 L688.9,415.1 L689.0,413.9 L689.0,412.6 L689.1,411.4 L689.1,410.1 L689.2,408.8 L689.2,407.5 L689.3,406.2 L689.4,404.9 L689.4,403.5 L689.5,402.2 L689.5,400.9 L689.6,399.5 L689.6,398.2 L689.7,396.9 L689.7,395.5 L689.8,394.2 L689.9,392.9 L689.9,391.6 L690.0,390.3 L690.0,389.1 L690.1,387.8 L690.1,386.6 L690.2,385.3 L690.3,384.2 L690.3,383.0 L690.4,381.8 L690.4,380.7 L690.5,379.6 L690.6,378.6 L690.6,377.6 L690.7,376.6 L690.8,375.6 L690.8,374.7 L690.9,373.8 L691.0,373.0 L691.0,372.2 L691.1,371.5 L691.1,370.8 L691.2,370.1 L691.3,369.6 L691.3,369.0 L691.4,368.5 L691.5,368.1 L691.6,367.8 L691.6,367.5 L691.7,367.2 L692.2,367.5 L692.3,368.0 L692.5,368.6 L692.6,369.3 L692.7,370.1 L692.8,371.1 L693.0,372.0 L693.1,373.1 L693.2,374.2 L693.3,375.4 L693.5,376.7 L693.6,378.0 L693.7,379.3 L693.8,380.6 L694.0,382.0 L694.1,383.3 L694.2,384.7 L694.3,386.0 L694.4,387.4 L694.6,388.7 L694.7,389.9 L694.8,391.1 L694.9,392.3 L695.0,393.4 L695.1,394.4 L695.2,395.4 L695.3,396.3 L695.4,397.3 L695.5,398.3 L695.5,399.3 L695.6,400.4 L695.7,401.4 L695.8,402.4 L695.9,403.4 L696.0,404.4 L696.0,405.5 L696.1,406.5 L696.2,407.5 L696.3,408.6 L696.4,409.6 L696.4,410.6 L696.5,411.7 L696.6,412.7 L696.7,413.7 L696.7,414.8 L696.8,415.8 L696.9,416.8 L697.0,417.9 L697.0,418.9 L697.1,419.9 L697.2,420.9 L697.3,422.0 L697.3,423.0 L697.4,424.0 L697.5,425.0 L697.6,426.0 L697.7,427.0 L697.7,428.0 L697.8,429.0 L697.9,430.0 L698.0,430.9 L698.0,431.9 L698.1,432.9 L698.2,433.8 L698.3,434.8 L698.3,435.8 L698.4,436.7 L698.5,437.7 L698.6,438.7 L698.6,439.6 L698.7,440.6 L698.8,441.6 L698.9,442.6 L698.9,443.5 L699.0,444.5 L699.1,445.5 L699.2,446.6 L699.2,447.6 L699.3,448.6 L699.4,449.7 L699.5,450.8 L699.6,451.8 L699.6,452.9 L699.7,454.1 L699.8,455.2 L699.9,456.1 L699.9,457.0 L700.0,457.9 L700.0,458.8 L700.1,459.8 L700.2,460.8 L700.2,461.7 L700.3,462.7 L700.3,463.8 L700.4,464.8 L700.5,465.8 L700.5,466.9 L700.6,467.9 L700.6,469.0 L700.7,470.0 L700.8,471.1 L700.8,472.2 L700.9,473.3 L700.9,474.4 L701.0,475.5 L701.1,476.6 L701.1,477.7 L701.2,478.8 L701.2,479.9 L701.3,481.0 L701.4,482.1 L701.4,483.2 L701.5,484.3 L701.6,485.4 L701.6,486.5 L701.7,487.6 L701.8,488.7 L701.8,489.8 L701.9,490.9 L702.0,491.9 L702.0,493.0 L702.1,494.0 L702.2,495.0 L702.2,496.1 L702.3,497.1 L702.4,498.1 L702.5,499.0 L702.5,500.0 L702.6,501.0 L702.7,501.9 L702.8,502.8 L702.9,503.7 L702.9,504.6 L703.0,505.4 L703.1,506.3 L703.2,507.1 L703.3,507.9 L703.4,509.1 L703.6,510.3 L703.7,511.4 L703.9,512.5 L704.0,513.6 L704.2,514.6 L704.3,515.6 L704.5,516.6 L704.7,517.5 L704.8,518.5 L705.0,519.4 L705.2,520.3 L705.3,521.3 L705.5,522.2 L705.7,523.1 L705.9,524.1 L706.0,525.0 L706.2,526.0 L706.4,527.0 L706.6,528.0 L706.8,529.0 L707.0,530.0 L707.2,531.0 L707.3,532.1 L707.5,533.3 L707.7,534.5 L707.9,535.8 L708.1,537.0 L708.3,538.3 L708.5,539.6 L708.7,540.9 L708.9,542.2 L709.1,543.5 L709.3,544.8 L709.5,546.0 L709.7,547.2 L709.9,548.3 L710.1,549.3 L710.4,550.3 L710.6,551.2 L710.8,552.0 L711.0,552.7 L712.4,554.1 L713.5,551.7 L713.8,551.4 L714.0,550.5 L714.3,549.4 L714.6,548.2 L714.9,547.0 L715.2,545.7 L715.5,544.5 L715.8,543.2 L716.0,541.9 L716.3,540.6 L716.6,539.3 L716.8,538.2 L717.1,537.0 L717.3,536.0 L717.5,535.0 L717.8,534.0 L718.0,533.0 L718.2,531.9 L718.4,530.9 L718.6,529.9 L718.8,528.8 L719.0,527.8 L719.2,526.8 L719.3,525.7 L719.5,524.7 L719.7,523.7 L719.9,522.6 L720.0,521.6 L720.2,520.6 L720.4,519.6 L720.6,518.6 L720.7,517.7 L720.9,516.7 L721.1,515.6 L721.2,514.4 L721.4,513.2 L721.5,512.0 L721.6,510.7 L721.7,509.5 L721.8,508.3 L721.9,507.1 L722.0,506.0 L722.2,505.0 L722.4,504.0 L722.6,503.2 L724.6,502.1 L725.8,502.1 L727.0,503.1 L728.2,504.3 L728.5,506.1 L728.8,507.4 L729.1,508.8 L729.4,510.2 L729.7,511.6 L730.0,513.0 L730.2,514.2 L730.5,515.3 L730.7,516.3 L730.9,517.0 L732.0,516.5 L732.1,516.1 L732.2,515.5 L732.3,515.0 L732.5,514.3 L732.6,513.6 L732.6,512.8 L732.7,512.0 L732.8,511.1 L732.9,510.2 L733.0,509.2 L733.1,508.2 L733.2,507.2 L733.3,506.1 L733.3,505.0 L733.4,503.8 L733.5,502.6 L733.5,501.4 L733.6,500.2 L733.7,498.9 L733.7,497.6 L733.8,496.3 L733.9,495.0 L733.9,493.7 L734.0,492.4 L734.1,491.1 L734.1,489.7 L734.2,488.4 L734.2,487.1 L734.3,485.8 L734.3,484.5 L734.4,483.2 L734.5,481.9 L734.5,480.7 L734.6,479.4 L734.6,478.2 L734.7,477.1 L734.7,475.9 L734.8,474.8 L734.8,473.7 L734.9,472.7 L735.0,471.7 L735.0,470.7 L735.1,469.7 L735.1,468.6 L735.2,467.6 L735.2,466.6 L735.2,465.5 L735.3,464.5 L735.3,463.4 L735.4,462.4 L735.4,461.3 L735.4,460.3 L735.5,459.2 L735.5,458.1 L735.5,457.1 L735.6,456.0 L735.6,454.9 L735.6,453.9 L735.7,452.8 L735.7,451.7 L735.7,450.7 L735.8,449.6 L735.8,448.6 L735.8,447.5 L735.8,446.4 L735.9,445.4 L735.9,444.3 L735.9,443.3 L735.9,442.3 L736.0,441.2 L736.0,440.2 L736.0,439.2 L736.0,438.2 L736.1,437.2 L736.1,436.2 L736.1,435.2 L736.2,434.2 L736.2,433.2 L736.2,432.3 L736.3,431.3 L736.3,430.4 L736.3,429.5 L736.4,428.5 L736.4,427.6 L736.4,426.7 L736.5,425.9 L736.5,425.0 L736.6,423.8 L736.6,422.5 L736.7,421.2 L736.7,419.9 L736.8,418.6 L736.8,417.2 L736.9,415.8 L736.9,414.4 L737.0,413.1 L737.1,411.7 L737.1,410.4 L737.2,409.1 L737.2,407.9 L737.3,406.7 L737.4,405.6 L737.4,404.5 L737.5,403.5 L737.6,402.6 L737.6,401.8 L737.7,401.1 L737.7,400.5 L737.8,400.0 L737.9,399.7 L737.9,399.5 L738.1,399.7 L738.2,400.0 L738.3,400.5 L738.3,401.1 L738.4,401.7 L738.5,402.5 L738.6,403.4 L738.6,404.3 L738.7,405.4 L738.8,406.5 L738.9,407.7 L738.9,408.9 L739.0,410.1 L739.1,411.5 L739.2,412.8 L739.2,414.2 L739.3,415.5 L739.4,416.9 L739.5,418.3 L739.5,419.7 L739.6,421.1 L739.7,422.4 L739.7,423.7 L739.8,425.0 L739.8,425.8 L739.9,426.6 L739.9,427.4 L740.0,428.2 L740.0,429.1 L740.0,429.9 L740.1,430.8 L740.1,431.7 L740.1,432.6 L740.2,433.5 L740.2,434.4 L740.2,435.3 L740.2,436.3 L740.3,437.2 L740.3,438.2 L740.3,439.2 L740.4,440.2 L740.4,441.1 L740.4,442.2 L740.4,443.2 L740.5,444.2 L740.5,445.2 L740.5,446.2 L740.5,447.3 L740.6,448.3 L740.6,449.4 L740.6,450.4 L740.7,451.5 L740.7,452.6 L740.7,453.6 L740.7,454.7 L740.8,455.8 L740.8,456.9 L740.8,457.9 L740.8,459.0 L740.9,460.1 L740.9,461.2 L740.9,462.3 L741.0,463.4 L741.0,464.5 L741.0,465.5 L741.0,466.6 L741.1,467.7 L741.1,468.8 L741.1,469.9 L741.2,470.9 L741.2,472.0 L741.2,473.1 L741.3,474.1 L741.3,475.2 L741.4,476.3 L741.4,477.3 L741.4,478.4 L741.5,479.4 L741.5,480.4 L741.6,481.5 L741.6,482.5 L741.6,483.5 L741.7,484.5 L741.7,485.5 L741.8,486.5 L741.8,487.4 L741.9,488.4 L741.9,489.4 L742.0,490.3 L742.1,491.4 L742.1,492.5 L742.2,493.7 L742.3,494.8 L742.3,496.0 L742.4,497.3 L742.5,498.5 L742.6,499.8 L742.6,501.1 L742.7,502.4 L742.8,503.7 L742.9,505.0 L743.0,506.3 L743.0,507.6 L743.1,509.0 L743.2,510.3 L743.3,511.6 L743.4,513.0 L743.5,514.3 L743.6,515.6 L743.6,516.9 L743.7,518.2 L743.8,519.5 L743.9,520.8 L744.0,522.0 L744.1,523.2 L744.2,524.5 L744.3,525.6 L744.4,526.8 L744.5,527.9 L744.6,529.0 L744.6,530.0 L744.7,531.0 L744.8,532.0 L744.9,532.9 L745.0,533.8 L745.1,534.7 L745.2,535.5 L745.3,536.2 L745.4,536.9 L745.5,537.5 L745.6,538.1 L745.7,538.6 L745.8,539.1 L745.9,539.5 L745.9,539.8 L746.8,539.5 L746.9,539.0 L747.0,538.4 L747.1,537.7 L747.2,536.9 L747.3,536.0 L747.5,535.1 L747.6,534.1 L747.7,533.0 L747.8,531.9 L747.9,530.8 L748.0,529.5 L748.2,528.3 L748.3,527.0 L748.4,525.7 L748.5,524.4 L748.6,523.0 L748.7,521.7 L748.9,520.3 L749.0,519.0 L749.1,517.6 L749.2,516.3 L749.3,515.0 L749.4,513.7 L749.5,512.5 L749.6,511.3 L749.7,510.1 L749.8,509.0 L749.9,507.9 L750.0,506.9 L750.1,505.9 L750.2,504.9 L750.2,503.9 L750.3,502.9 L750.4,501.9 L750.5,500.9 L750.6,499.8 L750.6,498.8 L750.7,497.8 L750.8,496.8 L750.9,495.7 L750.9,494.7 L751.0,493.7 L751.1,492.6 L751.1,491.6 L751.2,490.6 L751.3,489.6 L751.3,488.5 L751.4,487.5 L751.5,486.5 L751.6,485.5 L751.6,484.4 L751.7,483.4 L751.8,482.4 L751.8,481.4 L751.9,480.4 L752.0,479.4 L752.0,478.4 L752.1,477.5 L752.2,476.5 L752.3,475.5 L752.3,474.6 L752.4,473.6 L752.5,472.7 L752.6,471.6 L752.7,470.4 L752.8,469.2 L752.9,467.9 L753.0,466.6 L753.1,465.3 L753.2,464.0 L753.2,462.6 L753.3,461.3 L753.4,459.9 L753.5,458.6 L753.6,457.3 L753.7,456.0 L753.8,454.8 L753.9,453.6 L754.0,452.5 L754.1,451.5 L754.2,450.5 L754.3,449.6 L754.4,448.8 L754.5,448.1 L754.6,447.5 L754.8,447.0 L754.9,446.7 L755.6,447.5 L755.7,448.1 L755.9,448.8 L756.0,449.6 L756.2,450.5 L756.3,451.4 L756.5,452.5 L756.6,453.6 L756.8,454.8 L756.9,456.0 L757.1,457.3 L757.2,458.6 L757.4,459.9 L757.5,461.2 L757.7,462.6 L757.8,463.9 L757.9,465.3 L758.1,466.6 L758.2,467.9 L758.3,469.2 L758.5,470.4 L758.6,471.6 L758.7,472.7 L758.8,473.6 L758.9,474.6 L759.0,475.5 L759.1,476.5 L759.2,477.5 L759.2,478.5 L759.3,479.5 L759.4,480.5 L759.5,481.5 L759.6,482.5 L759.6,483.5 L759.7,484.5 L759.8,485.5 L759.8,486.6 L759.9,487.6 L760.0,488.6 L760.1,489.7 L760.1,490.7 L760.2,491.7 L760.3,492.8 L760.3,493.8 L760.4,494.9 L760.5,495.9 L760.5,496.9 L760.6,497.9 L760.7,499.0 L760.7,500.0 L760.8,501.0 L760.9,502.0 L760.9,503.0 L761.0,504.0 L761.1,505.0 L761.1,506.0 L761.2,506.9 L761.3,507.9 L761.4,509.0 L761.5,510.1 L761.6,511.3 L761.6,512.5 L761.7,513.8 L761.8,515.1 L761.9,516.4 L762.0,517.7 L762.0,519.0 L762.1,520.4 L762.2,521.7 L762.3,523.0 L762.4,524.3 L762.4,525.6 L762.5,526.8 L762.6,528.0 L762.7,529.1 L762.8,530.2 L762.9,531.3 L763.0,532.3 L763.1,533.2 L763.2,534.0 L763.3,534.7 L763.4,535.3 L763.5,535.9 L763.6,536.3 L764.3,535.7 L764.5,534.9 L764.7,533.9 L764.8,532.7 L765.0,531.4 L765.2,530.1 L765.3,528.6 L765.5,527.1 L765.7,525.6 L765.8,524.1 L766.0,522.7 L766.2,521.3 L766.4,520.0 L766.5,518.8 L766.7,517.8 L766.9,517.0 L767.1,516.3 L767.8,516.8 L767.9,517.5 L768.1,518.3 L768.2,519.3 L768.3,520.4 L768.4,521.6 L768.5,522.9 L768.6,524.3 L768.7,525.7 L768.8,527.1 L768.9,528.6 L769.1,530.0 L769.2,531.4 L769.4,532.8 L769.6,534.1 L769.7,535.3 L769.9,536.4 L770.2,537.4 L770.4,538.3 L772.1,540.2 L773.4,541.1 L774.5,541.5 L775.5,543.6 L775.8,544.7 L776.1,546.0 L776.4,547.3 L776.6,548.7 L776.9,550.1 L777.1,551.5 L777.3,552.9 L777.5,554.2 L777.7,555.5 L777.9,556.6 L778.1,557.6 L778.3,558.5 L778.5,559.1 L780.0,556.9 L780.1,557.0 L780.3,556.3 L780.4,555.4 L780.5,554.4 L780.7,553.3 L780.8,552.1 L780.9,550.8 L781.0,549.5 L781.1,548.1 L781.2,546.8 L781.3,545.4 L781.5,544.0 L781.6,542.7 L781.7,541.4 L781.8,540.2 L781.9,539.2 L782.0,538.2 L782.1,537.3 L782.2,536.7 L782.3,536.1 L782.4,535.8 L782.9,537.0 L783.1,537.9 L783.2,538.9 L783.4,540.1 L783.5,541.4 L783.7,542.7 L783.8,544.0 L784.0,545.4 L784.1,546.6 L784.2,547.5 L784.3,548.4 L784.4,549.5 L784.5,550.6 L784.6,551.8 L784.7,553.0 L784.8,554.3 L784.9,555.7 L785.0,557.0 L785.1,558.4 L785.1,559.7 L785.2,561.1 L785.3,562.4 L785.4,563.7 L785.5,564.9 L785.6,566.1 L785.7,567.2 L785.8,568.2 L785.9,569.1 L786.0,569.9 L786.2,570.6 L786.3,571.1 L786.4,571.6 L787.1,570.9 L787.3,570.1 L787.5,569.2 L787.7,568.1 L787.9,567.0 L788.0,565.7 L788.2,564.4 L788.4,563.0 L788.6,561.7 L788.7,560.3 L788.9,559.0 L789.0,558.3 L789.1,557.5 L789.1,556.7 L789.2,555.9 L789.3,555.1 L789.4,554.2 L789.5,553.3 L789.5,552.4 L789.6,551.4 L789.7,550.5 L789.8,549.5 L789.8,548.5 L789.9,547.5 L790.0,546.5 L790.0,545.4 L790.1,544.4 L790.2,543.3 L790.2,542.2 L790.3,541.2 L790.4,540.1 L790.4,538.9 L790.5,537.8 L790.5,536.7 L790.6,535.6 L790.7,534.5 L790.7,533.4 L790.8,532.2 L790.8,531.1 L790.9,530.0 L790.9,528.9 L791.0,527.8 L791.0,526.7 L791.1,525.6 L791.1,524.5 L791.2,523.4 L791.2,522.3 L791.3,521.3 L791.4,520.2 L791.4,519.2 L791.5,518.2 L791.5,517.2 L791.6,516.2 L791.6,515.2 L791.7,514.1 L791.7,513.1 L791.8,512.0 L791.8,511.0 L791.9,510.0 L791.9,508.9 L791.9,507.9 L792.0,506.9 L792.0,505.9 L792.1,504.9 L792.1,503.9 L792.1,502.9 L792.2,501.9 L792.2,500.9 L792.3,499.9 L792.3,498.9 L792.3,497.9 L792.4,496.9 L792.4,495.9 L792.4,495.0 L792.5,494.0 L792.5,493.0 L792.6,492.0 L792.6,491.0 L792.6,490.0 L792.7,489.0 L792.7,488.1 L792.7,487.1 L792.8,486.1 L792.8,485.1 L792.9,484.1 L792.9,483.0 L793.0,482.0 L793.0,481.0 L793.0,480.0 L793.1,478.9 L793.1,477.7 L793.2,476.6 L793.2,475.3 L793.3,474.1 L793.3,472.8 L793.4,471.5 L793.4,470.1 L793.5,468.8 L793.5,467.4 L793.5,466.1 L793.6,464.7 L793.6,463.3 L793.7,462.0 L793.7,460.7 L793.8,459.3 L793.8,458.0 L793.9,456.8 L793.9,455.5 L794.0,454.3 L794.0,453.2 L794.1,452.1 L794.1,451.0 L794.2,450.0 L794.2,449.1 L794.3,448.2 L794.3,447.4 L794.4,446.6 L794.5,446.0 L794.5,445.4 L794.6,445.0 L794.6,444.6 L794.7,444.3 L795.0,444.5 L795.1,445.0 L795.2,445.7 L795.3,446.6 L795.4,447.6 L795.5,448.6 L795.6,449.8 L795.7,451.1 L795.8,452.4 L795.9,453.8 L796.0,455.2 L796.1,456.5 L796.2,457.9 L796.3,459.2 L796.4,460.5 L796.5,461.4 L796.5,462.3 L796.6,463.3 L796.7,464.4 L796.7,465.5 L796.8,466.6 L796.9,467.9 L796.9,469.1 L797.0,470.4 L797.1,471.7 L797.1,473.1 L797.2,474.4 L797.3,475.8 L797.3,477.2 L797.4,478.6 L797.5,479.9 L797.5,481.3 L797.6,482.6 L797.7,483.9 L797.8,485.2 L797.8,486.5 L797.9,487.7 L798.0,488.9 L798.0,490.0 L798.1,491.1 L798.2,492.1 L798.2,493.0 L798.3,493.9 L798.4,494.6 L798.5,495.3 L798.5,495.9 L798.6,496.5 L798.7,496.9 L798.8,497.2 L799.3,496.4 L799.4,495.7 L799.5,494.9 L799.6,493.9 L799.8,492.8 L799.9,491.6 L800.0,490.3 L800.1,489.0 L800.3,487.6 L800.4,486.2 L800.5,484.9 L800.6,483.5 L800.7,482.2 L800.8,481.0 L800.9,480.1 L800.9,479.3 L801.0,478.4 L801.0,477.5 L801.1,476.6 L801.1,475.7 L801.2,474.7 L801.2,473.8 L801.3,472.8 L801.3,471.8 L801.3,470.9 L801.4,469.9 L801.4,468.9 L801.4,467.9 L801.5,466.9 L801.5,465.8 L801.5,464.8 L801.6,463.8 L801.6,462.7 L801.6,461.7 L801.6,460.6 L801.7,459.6 L801.7,458.5 L801.7,457.4 L801.8,456.3 L801.8,455.3 L801.8,454.2 L801.8,453.1 L801.9,452.0 L801.9,450.9 L801.9,450.0 L801.9,449.0 L802.0,448.1 L802.0,447.1 L802.0,446.2 L802.0,445.2 L802.0,444.2 L802.1,443.2 L802.1,442.2 L802.1,441.2 L802.1,440.2 L802.1,439.2 L802.1,438.2 L802.1,437.2 L802.2,436.2 L802.2,435.1 L802.2,434.1 L802.2,433.0 L802.2,432.0 L802.2,431.0 L802.2,429.9 L802.2,428.9 L802.2,427.8 L802.3,426.8 L802.3,425.7 L802.3,424.7 L802.3,423.6 L802.3,422.6 L802.3,421.5 L802.4,420.5 L802.4,419.5 L802.4,418.4 L802.4,417.4 L802.5,416.4 L802.5,415.4 L802.5,414.3 L802.6,413.3 L802.6,412.3 L802.6,411.3 L802.7,410.3 L802.7,409.3 L802.8,408.4 L802.8,407.4 L802.9,406.3 L802.9,405.2 L803.0,404.0 L803.0,402.8 L803.1,401.6 L803.2,400.4 L803.2,399.1 L803.3,397.8 L803.4,396.4 L803.4,395.1 L803.5,393.8 L803.6,392.4 L803.7,391.1 L803.7,389.8 L803.8,388.5 L803.9,387.2 L804.0,385.9 L804.1,384.6 L804.2,383.4 L804.2,382.2 L804.3,381.1 L804.4,379.9 L804.5,378.9 L804.6,377.9 L804.7,376.9 L804.8,376.0 L804.9,375.2 L805.0,374.4 L805.1,373.7 L805.1,373.1 L805.2,372.6 L805.3,372.1 L805.4,371.8 L806.0,371.9 L806.1,372.4 L806.2,373.0 L806.2,373.7 L806.3,374.5 L806.4,375.5 L806.5,376.5 L806.6,377.5 L806.7,378.7 L806.8,379.9 L806.9,381.2 L807.0,382.6 L807.2,384.0 L807.3,385.4 L807.4,386.8 L807.5,388.3 L807.6,389.8 L807.7,391.3 L807.8,392.8 L807.9,394.3 L808.0,395.8 L808.1,397.2 L808.2,398.7 L808.3,400.0 L808.4,401.4 L808.5,402.7 L808.6,403.9 L808.7,405.1 L808.8,406.1 L808.9,407.1 L809.0,408.1 L809.1,408.9 L809.2,409.6 L809.3,410.2 L809.3,410.7 L809.4,411.0 L809.9,410.7 L810.0,410.4 L810.0,410.0 L810.1,409.5 L810.2,409.0 L810.2,408.4 L810.3,407.8 L810.4,407.1 L810.4,406.4 L810.5,405.6 L810.6,404.8 L810.6,403.9 L810.7,402.9 L810.8,402.0 L810.8,401.0 L810.9,399.9 L811.0,398.8 L811.0,397.7 L811.1,396.6 L811.1,395.4 L811.2,394.2 L811.3,393.0 L811.3,391.7 L811.4,390.4 L811.4,389.1 L811.5,387.8 L811.6,386.5 L811.6,385.2 L811.7,383.9 L811.7,382.5 L811.8,381.2 L811.8,379.8 L811.9,378.5 L811.9,377.1 L812.0,375.8 L812.0,374.4 L812.1,373.1 L812.1,371.8 L812.2,370.5 L812.2,369.2 L812.3,367.9 L812.3,366.7 L812.4,365.4 L812.4,364.2 L812.4,363.0 L812.5,361.9 L812.5,360.8 L812.6,359.7 L812.6,358.6 L812.6,357.6 L812.7,356.6 L812.7,355.7 L812.7,354.7 L812.8,353.7 L812.8,352.7 L812.8,351.7 L812.8,350.7 L812.9,349.8 L812.9,348.8 L812.9,347.8 L812.9,346.8 L812.9,345.8 L813.0,344.9 L813.0,343.9 L813.0,342.9 L813.0,341.9 L813.0,340.9 L813.0,339.9 L813.0,339.0 L813.1,338.0 L813.1,337.0 L813.1,336.0 L813.1,335.0 L813.1,334.0 L813.1,333.0 L813.1,332.0 L813.1,331.0 L813.1,330.0 L813.1,329.0 L813.1,328.0 L813.2,327.0 L813.2,326.0 L813.2,325.0 L813.2,324.0 L813.2,323.0 L813.2,322.0 L813.2,321.0 L813.2,319.9 L813.2,318.9 L813.2,317.9 L813.3,316.9 L813.3,315.8 L813.3,314.8 L813.3,313.8 L813.3,312.7 L813.3,311.7 L813.4,310.6 L813.4,309.6 L813.4,308.5 L813.4,307.5 L813.4,306.4 L813.5,305.4 L813.5,304.3 L813.5,303.2 L813.5,302.2 L813.6,301.1 L813.6,300.0 L813.6,299.1 L813.7,298.1 L813.7,297.1 L813.7,296.0 L813.7,295.0 L813.8,293.9 L813.8,292.8 L813.8,291.7 L813.9,290.5 L813.9,289.4 L813.9,288.2 L814.0,287.0 L814.0,285.8 L814.0,284.5 L814.1,283.3 L814.1,282.0 L814.1,280.8 L814.2,279.5 L814.2,278.2 L814.2,276.9 L814.3,275.6 L814.3,274.2 L814.3,272.9 L814.4,271.6 L814.4,270.3 L814.4,268.9 L814.5,267.6 L814.5,266.2 L814.6,264.9 L814.6,263.6 L814.6,262.2 L814.7,260.9 L814.7,259.6 L814.8,258.2 L814.8,256.9 L814.8,255.6 L814.9,254.3 L814.9,253.0 L815.0,251.7 L815.0,250.5 L815.1,249.2 L815.1,248.0 L815.1,246.7 L815.2,245.5 L815.2,244.3 L815.3,243.2 L815.3,242.0 L815.4,240.9 L815.4,239.8 L815.5,238.7 L815.5,237.6 L815.5,236.6 L815.6,235.6 L815.6,234.6 L815.7,233.6 L815.7,232.7 L815.8,231.8 L815.8,230.9 L815.9,230.1 L815.9,229.2 L816.0,228.5 L816.0,227.7 L816.1,227.0 L816.1,226.4 L816.2,225.7 L816.2,225.2 L816.3,224.6 L816.4,224.1 L816.4,223.7 L816.5,223.2 L816.5,222.9 L816.6,222.5 L816.6,222.3 L816.7,222.0 L816.7,221.8 L817.3,222.4 L817.4,222.9 L817.5,223.7 L817.7,224.5 L817.8,225.4 L817.9,226.5 L818.1,227.6 L818.2,228.8 L818.3,230.1 L818.5,231.4 L818.6,232.8 L818.8,234.2 L818.9,235.6 L819.0,237.0 L819.1,238.4 L819.3,239.8 L819.4,241.1 L819.5,241.9 L819.5,242.7 L819.6,243.5 L819.7,244.4 L819.7,245.3 L819.8,246.3 L819.9,247.3 L819.9,248.4 L820.0,249.5 L820.1,250.6 L820.1,251.7 L820.2,252.9 L820.2,254.1 L820.3,255.4 L820.4,256.6 L820.4,257.9 L820.5,259.2 L820.6,260.5 L820.6,261.8 L820.7,263.2 L820.7,264.5 L820.8,265.9 L820.9,267.2 L820.9,268.6 L821.0,269.9 L821.0,271.3 L821.1,272.7 L821.1,274.0 L821.2,275.4 L821.3,276.7 L821.3,278.0 L821.4,279.4 L821.4,280.7 L821.5,282.0 L821.5,283.2 L821.6,284.5 L821.7,285.7 L821.7,286.9 L821.8,288.1 L821.8,289.2 L821.9,290.3 L821.9,291.4 L822.0,292.4 L822.0,293.4 L822.1,294.4 L822.1,295.3 L822.2,296.2 L822.2,297.0 L822.3,297.8 L822.3,298.5 L822.4,299.2 L822.4,299.8 L822.5,300.4 L822.6,300.9 L822.6,301.3 L822.7,301.7 L822.7,302.0 L822.8,302.3 L822.8,302.5 L822.9,302.6 L822.9,302.6 L823.1,302.3 L823.1,302.0 L823.2,301.7 L823.2,301.4 L823.3,300.9 L823.3,300.4 L823.3,299.9 L823.4,299.3 L823.4,298.6 L823.5,297.9 L823.5,297.2 L823.6,296.4 L823.6,295.5 L823.7,294.6 L823.7,293.7 L823.8,292.7 L823.8,291.7 L823.8,290.7 L823.9,289.6 L823.9,288.5 L824.0,287.3 L824.0,286.2 L824.1,285.0 L824.1,283.8 L824.1,282.5 L824.2,281.3 L824.2,280.0 L824.3,278.7 L824.3,277.4 L824.4,276.1 L824.4,274.7 L824.4,273.4 L824.5,272.1 L824.5,270.7 L824.6,269.4 L824.6,268.0 L824.6,266.7 L824.7,265.3 L824.7,264.0 L824.8,262.7 L824.8,261.4 L824.8,260.1 L824.9,258.8 L824.9,257.5 L825.0,256.2 L825.0,255.0 L825.1,253.8 L825.1,252.6 L825.1,251.4 L825.2,250.2 L825.2,249.1 L825.3,248.0 L825.3,247.0 L825.3,246.0 L825.4,245.0 L825.4,243.9 L825.5,242.8 L825.5,241.7 L825.5,240.5 L825.6,239.3 L825.6,238.1 L825.6,236.9 L825.7,235.7 L825.7,234.4 L825.7,233.1 L825.8,231.8 L825.8,230.5 L825.8,229.2 L825.9,227.9 L825.9,226.5 L825.9,225.2 L826.0,223.9 L826.0,222.5 L826.0,221.2 L826.0,219.8 L826.1,218.5 L826.1,217.1 L826.1,215.8 L826.2,214.5 L826.2,213.2 L826.2,211.9 L826.3,210.6 L826.3,209.3 L826.3,208.0 L826.4,206.8 L826.4,205.6 L826.4,204.4 L826.5,203.2 L826.5,202.1 L826.5,200.9 L826.6,199.8 L826.6,198.8 L826.7,197.7 L826.7,196.7 L826.7,195.8 L826.8,194.8 L826.8,194.0 L826.8,193.1 L826.9,192.3 L826.9,191.5 L827.0,190.8 L827.0,190.2 L827.1,189.5 L827.1,189.0 L827.2,188.4 L827.2,188.0 L827.3,187.6 L827.3,187.2 L827.4,186.9 L827.4,186.7 L827.8,186.8 L827.9,187.4 L828.0,188.1 L828.1,188.9 L828.2,189.9 L828.3,191.0 L828.4,192.2 L828.5,193.5 L828.6,194.9 L828.8,196.3 L828.9,197.7 L829.0,199.1 L829.1,200.4 L829.3,201.8 L829.4,203.1 L829.5,204.3 L829.7,205.4 L829.9,206.4 L830.0,207.2 L830.2,207.9 L831.7,210.5 L832.2,212.3 L832.3,212.8 L832.4,213.4 L832.5,214.0 L832.6,214.7 L832.7,215.4 L832.8,216.1 L832.9,216.9 L832.9,217.7 L833.0,218.5 L833.1,219.4 L833.1,220.3 L833.2,221.2 L833.2,222.2 L833.3,223.2 L833.3,224.2 L833.4,225.2 L833.4,226.3 L833.5,227.3 L833.5,228.4 L833.5,229.6 L833.6,230.7 L833.6,231.8 L833.6,233.0 L833.6,234.2 L833.7,235.3 L833.7,236.5 L833.7,237.7 L833.7,238.9 L833.8,240.1 L833.8,241.4 L833.8,242.6 L833.8,243.8 L833.8,245.0 L833.9,246.2 L833.9,247.4 L833.9,248.6 L833.9,249.8 L834.0,251.0 L834.0,252.1 L834.0,253.3 L834.0,254.5 L834.1,255.6 L834.1,256.7 L834.1,257.6 L834.2,258.5 L834.2,259.5 L834.2,260.4 L834.2,261.4 L834.2,262.3 L834.3,263.3 L834.3,264.2 L834.3,265.2 L834.3,266.2 L834.3,267.1 L834.4,268.1 L834.4,269.1 L834.4,270.1 L834.4,271.1 L834.4,272.1 L834.4,273.1 L834.4,274.1 L834.5,275.1 L834.5,276.1 L834.5,277.1 L834.5,278.1 L834.5,279.1 L834.5,280.1 L834.5,281.2 L834.5,282.2 L834.5,283.2 L834.5,284.2 L834.6,285.3 L834.6,286.3 L834.6,287.3 L834.6,288.4 L834.6,289.4 L834.6,290.4 L834.6,291.5 L834.6,292.5 L834.6,293.5 L834.6,294.6 L834.6,295.6 L834.6,296.6 L834.7,297.7 L834.7,298.7 L834.7,299.7 L834.7,300.8 L834.7,301.8 L834.7,302.8 L834.7,303.9 L834.7,304.9 L834.7,305.9 L834.8,306.9 L834.8,308.0 L834.8,309.0 L834.8,310.0 L834.8,311.0 L834.8,312.0 L834.9,313.0 L834.9,314.0 L834.9,315.0 L834.9,316.0 L834.9,317.0 L835.0,318.0 L835.0,319.0 L835.0,320.0 L835.0,321.0 L835.1,322.1 L835.1,323.1 L835.1,324.1 L835.1,325.1 L835.2,326.2 L835.2,327.2 L835.2,328.2 L835.2,329.3 L835.3,330.3 L835.3,331.3 L835.3,332.4 L835.4,333.4 L835.4,334.5 L835.4,335.5 L835.5,336.5 L835.5,337.6 L835.5,338.6 L835.6,339.6 L835.6,340.7 L835.6,341.7 L835.7,342.7 L835.7,343.8 L835.7,344.8 L835.8,345.8 L835.8,346.9 L835.8,347.9 L835.9,348.9 L835.9,349.9 L835.9,350.9 L836.0,352.0 L836.0,353.0 L836.1,354.0 L836.1,355.0 L836.1,356.0 L836.2,357.0 L836.2,358.0 L836.2,359.0 L836.3,360.0 L836.3,361.0 L836.4,362.0 L836.4,363.0 L836.4,364.0 L836.5,364.9 L836.5,365.9 L836.5,366.9 L836.6,367.8 L836.6,368.8 L836.7,369.7 L836.7,370.7 L836.7,371.6 L836.8,372.6 L836.8,373.5 L836.8,374.4 L836.9,375.4 L836.9,376.3 L837.0,377.2 L837.0,378.1 L837.0,379.2 L837.1,380.3 L837.1,381.4 L837.2,382.5 L837.2,383.6 L837.3,384.7 L837.3,385.8 L837.4,386.8 L837.4,387.9 L837.4,389.0 L837.5,390.1 L837.5,391.1 L837.6,392.2 L837.6,393.3 L837.7,394.3 L837.7,395.3 L837.8,396.4 L837.8,397.4 L837.8,398.4 L837.9,399.5 L837.9,400.5 L838.0,401.5 L838.0,402.5 L838.1,403.5 L838.1,404.5 L838.2,405.4 L838.2,406.4 L838.3,407.4 L838.3,408.3 L838.4,409.2 L838.4,410.2 L838.5,411.1 L838.5,412.0 L838.6,412.9 L838.7,413.8 L838.7,414.6 L838.8,415.5 L838.8,416.4 L838.9,417.2 L839.0,418.4 L839.1,419.5 L839.2,420.6 L839.3,421.7 L839.4,422.7 L839.5,423.7 L839.6,424.7 L839.7,425.6 L839.8,426.6 L839.9,427.5 L840.0,428.5 L840.1,429.5 L840.2,430.4 L840.3,431.4 L840.5,432.5 L840.6,433.5 L840.7,434.6 L840.8,435.8 L840.9,437.0 L841.0,437.8 L841.1,438.8 L841.1,439.7 L841.2,440.7 L841.3,441.8 L841.4,442.9 L841.4,444.1 L841.5,445.3 L841.6,446.5 L841.7,447.7 L841.8,449.0 L841.9,450.3 L841.9,451.6 L842.0,453.0 L842.1,454.3 L842.2,455.6 L842.3,457.0 L842.4,458.3 L842.4,459.6 L842.5,461.0 L842.6,462.3 L842.7,463.6 L842.8,464.8 L842.9,466.1 L843.0,467.3 L843.0,468.4 L843.1,469.6 L843.2,470.6 L843.3,471.7 L843.4,472.7 L843.5,473.6 L843.5,474.5 L843.6,475.3 L843.7,476.0 L843.8,476.7 L843.9,477.3 L843.9,477.8 L844.0,478.2 L844.1,478.6 L844.2,478.8 L844.4,478.7 L844.5,478.3 L844.6,477.8 L844.7,477.1 L844.7,476.4 L844.8,475.5 L844.9,474.5 L844.9,473.4 L845.0,472.2 L845.1,471.0 L845.1,469.7 L845.2,468.3 L845.2,466.9 L845.3,465.5 L845.4,464.0 L845.4,462.5 L845.5,461.0 L845.6,459.4 L845.6,457.9 L845.7,456.4 L845.7,454.9 L845.8,453.5 L845.9,452.1 L845.9,450.7 L846.0,449.4 L846.0,448.2 L846.1,447.0 L846.2,445.9 L846.2,444.9 L846.3,444.0 L846.4,443.3 L846.4,442.6 L846.5,442.1 L846.6,441.7 L846.6,441.5 L847.0,442.0 L847.0,442.5 L847.1,443.1 L847.2,443.7 L847.3,444.5 L847.4,445.4 L847.5,446.3 L847.6,447.4 L847.7,448.4 L847.8,449.6 L847.9,450.8 L848.0,452.0 L848.0,453.3 L848.1,454.6 L848.2,455.9 L848.3,457.3 L848.4,458.6 L848.5,459.9 L848.6,461.2 L848.7,462.5 L848.8,463.8 L848.8,465.0 L848.9,466.2 L849.0,467.3 L849.1,468.2 L849.1,469.2 L849.2,470.1 L849.3,471.1 L849.3,472.0 L849.4,473.0 L849.4,474.0 L849.5,475.0 L849.5,476.1 L849.6,477.1 L849.6,478.1 L849.7,479.2 L849.8,480.2 L849.8,481.3 L849.9,482.3 L849.9,483.4 L850.0,484.4 L850.0,485.5 L850.1,486.6 L850.1,487.6 L850.2,488.7 L850.2,489.8 L850.3,490.8 L850.3,491.9 L850.4,492.9 L850.4,494.0 L850.5,495.0 L850.5,496.0 L850.6,497.0 L850.6,498.0 L850.7,499.0 L850.7,500.0 L850.8,501.0 L850.9,501.9 L850.9,502.9 L851.0,503.8 L851.0,504.7 L851.1,505.6 L851.2,506.8 L851.2,508.0 L851.3,509.3 L851.4,510.5 L851.4,511.9 L851.5,513.2 L851.5,514.5 L851.6,515.9 L851.6,517.2 L851.7,518.5 L851.7,519.7 L851.8,521.0 L851.9,522.1 L851.9,523.2 L852.0,524.3 L852.1,525.2 L852.2,526.1 L852.3,526.9 L852.5,527.5 L852.6,528.1 L853.8,529.0 L855.2,525.6 L856.7,528.5 L857.8,528.3 L858.0,527.5 L858.2,526.5 L858.3,525.3 L858.5,524.0 L858.7,522.6 L858.8,521.1 L859.0,519.7 L859.2,518.2 L859.3,516.7 L859.5,515.2 L859.6,513.8 L859.8,512.6 L859.9,511.4 L860.1,510.4 L860.2,509.6 L860.4,508.9 L861.4,510.1 L861.6,510.9 L861.7,511.9 L861.9,513.0 L862.1,514.2 L862.3,515.5 L862.4,516.8 L862.6,518.2 L862.7,519.6 L862.9,520.9 L863.1,522.3 L863.2,523.6 L863.4,524.8 L863.5,525.7 L863.6,526.6 L863.7,527.6 L863.8,528.6 L863.9,529.6 L864.0,530.7 L864.0,531.8 L864.1,533.0 L864.2,534.1 L864.3,535.3 L864.3,536.5 L864.4,537.7 L864.5,538.9 L864.5,540.1 L864.6,541.3 L864.7,542.5 L864.8,543.7 L864.9,544.8 L864.9,546.0 L865.0,547.1 L865.2,548.1 L865.3,549.2 L865.4,550.2 L865.5,551.1 L865.7,552.0 L865.8,552.9 L866.0,553.7 L866.2,554.4 L866.4,555.1 L867.6,557.0 L869.3,559.3 L871.1,561.1 L872.8,561.5 L874.4,561.4 L875.8,559.9 L877.1,558.0 L878.3,556.8 L879.4,554.5 L880.6,552.9 L881.9,550.0 L883.3,548.0 L884.7,543.5 L885.4,541.0 L885.8,539.9 L886.1,538.9 L886.4,537.8 L886.8,536.8 L887.1,535.8 L887.4,534.8 L887.7,533.9 L888.0,533.0 L888.3,532.0 L888.7,530.9 L889.0,530.0 L889.3,529.0 L889.6,528.0 L889.9,527.1 L890.2,526.1 L890.5,525.2 L890.8,524.3 L891.1,523.3 L891.4,522.3 L891.6,521.3 L891.9,520.3 L892.1,519.3 L892.3,518.4 L892.5,517.5 L892.7,516.5 L892.8,515.6 L893.0,514.6 L893.1,513.7 L893.3,512.7 L893.4,511.8 L893.5,510.8 L893.7,509.8 L893.8,508.8 L893.9,507.8 L894.1,506.8 L894.2,505.7 L894.3,504.7 L894.5,503.6 L894.6,502.6 L894.8,501.5 L894.9,500.6 L895.1,499.6 L895.2,498.6 L895.4,497.6 L895.5,496.6 L895.6,495.5 L895.7,494.5 L895.9,493.4 L896.0,492.3 L896.2,491.2 L896.3,490.1 L896.4,489.0 L896.6,487.9 L896.7,486.8 L896.9,485.7 L897.0,484.6 L897.2,483.6 L897.4,482.5 L897.5,481.5 L897.7,480.5 L897.9,479.5 L898.1,478.5 L898.3,477.6 L898.5,476.7 L898.8,475.8 L899.0,475.0 L899.4,473.9 L900.6,470.2 L902.0,469.2 L903.3,465.0 L904.4,462.8 L905.2,462.5 L905.2,461.0 L905.0,460.3 L905.1,458.6 L905.6,457.3 L905.9,457.5 L906.4,456.1 L906.5,455.0 L906.2,454.2 L906.6,453.4 L907.3,451.9 L907.1,451.4 L907.1,449.6 L907.6,449.6 L907.7,448.3 L907.9,447.2 L907.7,445.8 L907.5,445.0 L907.3,443.7 L908.0,443.1 L907.9,441.3 L907.8,440.6 L908.1,439.5 L908.2,439.3 L907.8,437.9 L908.6,436.5 L908.5,436.4 L908.3,434.7 L908.6,434.1 L909.7,432.8 L909.1,431.9 L909.8,431.2 L910.1,430.1 L910.7,429.0 L910.6,428.7 L910.6,427.3 L911.1,426.4 L911.1,425.7 L911.5,423.1 L911.7,422.4 L911.7,421.1 L912.3,420.3 L912.5,418.3 L912.6,417.9 L913.5,416.5 L913.1,416.1 L914.5,414.7 L914.4,415.1 L915.2,417.1 L915.3,417.7 L915.4,418.6 L916.0,420.2 L915.9,422.3 L916.3,423.2 L916.0,424.7 L916.1,426.5 L916.6,427.7 L916.8,428.0 L918.9,429.4 L921.1,428.1 L922.3,425.9 L922.5,425.0 L923.0,423.5 L923.2,423.0 L923.5,422.4 L923.9,421.1 L924.3,420.9 L923.6,419.9 L924.6,418.8 L924.0,417.9 L924.6,415.5 L924.1,415.9 L924.8,413.6 L924.4,412.3 L924.6,412.2 L924.8,410.0 L925.4,409.8 L924.8,408.8 L925.3,407.4 L925.5,406.4 L925.7,405.1 L925.2,403.7 L925.6,402.6 L925.6,401.7 L925.8,399.5 L925.5,398.2 L925.9,397.0 L925.9,396.2 L926.0,395.8 L926.2,395.4 L925.7,394.4 L926.2,392.9 L926.5,392.4 L926.2,390.7 L926.8,389.1 L926.6,388.9 L926.0,387.8 L926.7,387.3 L926.4,386.3 L926.6,384.4 L927.0,382.6 L926.8,382.5 L926.5,381.8 L926.5,380.1 L926.7,379.4 L926.4,377.8 L926.6,376.9 L927.1,375.4 L927.1,374.6 L926.8,373.3 L926.8,373.4 L927.0,372.0 L926.7,370.2 L926.7,369.6 L927.1,368.9 L926.6,367.8 L927.5,366.6 L926.7,365.2 L926.7,364.1 L927.7,363.9 L927.5,363.2 L927.8,362.1 L927.6,361.2 L927.8,360.4 L927.9,358.9 L928.0,358.5 L928.3,356.8 L927.9,355.6 L928.7,355.9 L928.8,354.0 L929.2,353.7 L929.2,351.9 L929.2,351.3 L929.5,350.4 L930.1,350.3 L929.8,348.8 L930.0,347.2 L931.1,347.0 L931.4,345.9 L930.8,344.8 L931.6,344.7 L932.2,343.0 L931.8,341.4 L932.2,340.6 L931.8,339.3 L931.8,339.4 L932.1,338.8 L932.2,337.6 L932.3,335.2 L933.1,334.5 L933.2,333.3 L932.6,333.2 L933.4,332.2 L933.5,329.9 L933.6,329.9 L933.5,329.2 L933.4,328.2 L934.0,325.6 L933.5,325.6 L934.4,323.7 L934.1,323.8 L934.1,323.0 L934.6,320.8 L934.7,320.6 L935.0,319.7 L935.0,318.9 L935.4,317.7 L936.0,316.4 L936.0,316.1 L936.8,315.2 L936.7,313.5 L936.5,313.7 L937.4,312.5 L937.3,311.2 L938.3,310.6 L938.2,308.8 L938.3,308.7 L938.5,307.3 L938.9,306.7 L939.3,304.8 L938.7,303.9 L939.4,303.4 L939.9,303.0 L939.4,301.9 L940.3,300.9 L940.3,299.0 L940.8,298.8 L940.8,298.0 L940.7,295.6 L941.1,295.7 L940.9,294.6 L941.9,292.7 L941.7,292.4 L941.8,290.6 L941.8,290.5 L942.5,289.0 L942.1,288.5 L943.0,286.6 L943.0,286.7 L943.5,285.1 L943.4,284.2 L943.4,282.5 L943.6,282.2 L944.1,280.8 L944.4,279.5 L944.5,277.4 L945.7,276.6 L945.1,275.7 L946.1,273.7 L946.2,272.7 L946.5,270.9 L946.3,271.3 L947.5,269.4 L947.5,268.0 L948.0,267.3 L948.8,265.7 L950.1,266.1 L950.4,265.9 L949.7,266.7 L949.9,267.6 L949.9,269.5 L950.9,270.6 L951.1,272.7 L950.3,273.7 L950.7,274.4 L951.4,276.1 L951.1,278.2 L951.6,279.8 L951.1,280.9 L951.0,283.2 L951.9,283.3 L951.0,284.7 L951.4,286.9 L952.1,287.8 L951.3,288.6 L952.1,289.1 L952.5,288.7 L951.7,290.2 L953.0,289.2 L952.4,288.4 L953.0,286.8 L952.7,286.1 L952.6,285.3 L952.7,283.7 L952.8,283.1 L952.8,281.8 L953.1,279.3 L953.9,278.1 L954.0,277.6 L954.1,274.9 L953.8,273.3 L954.4,273.1 L954.2,271.0 L954.0,270.2 L954.3,268.6 L954.0,266.7 L954.1,266.4 L954.7,264.5 L955.1,263.8 L954.8,263.0 L954.7,263.6 L955.5,263.1 L955.8,263.8 L956.3,264.1 L956.5,264.8 L956.5,266.6 L956.0,267.2 L956.2,267.8 L956.2,269.0 L957.1,271.1 L957.2,270.8 L956.7,273.3 L956.6,274.2 L956.9,275.9 L956.8,276.9 L957.2,277.2 L957.0,279.7 L957.7,280.0 L957.7,282.5 L957.6,283.3 L957.6,284.0 L958.4,286.2 L957.9,286.4 L957.9,288.5 L958.5,289.2 L958.3,291.0 L958.9,292.4 L958.9,292.5 L958.5,294.4 L958.9,295.3 L958.7,296.3 L959.1,297.5 L959.7,298.1 L959.0,299.9 L959.5,300.9 L959.4,300.9 L960.1,302.2 L959.5,303.3 L960.0,303.7 L960.1,305.4 L960.2,305.8 L960.5,307.9 L960.7,308.0 L960.7,309.0 L960.9,309.3 L961.2,311.6 L961.0,311.7 L961.3,312.8 L962.8,315.4 L964.4,319.1 L963.8,319.6 L964.0,321.7 L964.0,321.5 L964.9,322.7 L964.4,324.5 L965.2,325.6 L965.5,326.2 L965.8,328.5 L965.2,328.9 L965.9,330.9 L965.8,331.7 L966.2,333.1 L966.5,335.6 L966.3,336.5 L967.1,337.1 L967.3,339.6 L967.1,339.9 L967.7,341.2 L967.5,342.9 L968.0,342.8 L967.7,343.6 L968.0,345.4 L968.6,345.8 L969.8,344.8 L969.2,343.2 L970.3,342.5 L969.8,340.3 L970.4,338.7 L970.5,336.6 L970.6,335.8 L970.4,333.8 L971.6,333.5 L971.7,332.1 L971.8,331.7 L972.0,329.7 L972.2,330.5 L972.4,331.1 L972.3,333.0 L972.5,333.0 L972.5,334.5 L973.1,335.5 L972.5,337.5 L972.4,338.9 L973.3,340.3 L972.7,341.7 L973.1,342.8 L972.8,344.2 L973.1,346.1 L973.2,347.1 L973.1,348.8 L973.9,349.9 L973.8,350.8 L973.5,351.6 L973.9,351.7 L974.7,350.7 L974.6,349.3 L974.8,348.4 L975.2,347.0 L975.1,345.2 L976.2,343.7 L976.2,343.0 L976.8,343.8 L976.9,344.3 L976.9,344.1 L977.8,345.7 L977.1,346.9 L977.6,348.7 L977.4,349.3 L978.3,351.6 L977.6,352.4 L977.9,354.5 L978.3,356.3 L978.6,357.3 L978.7,359.1 L978.8,360.0 L978.9,361.7 L979.2,362.0 L979.3,362.9 L979.3,364.7 L979.2,366.1 L979.4,365.8 L980.5,365.7 L980.5,364.0 L980.6,363.0 L981.1,361.5 L980.9,360.5 L981.2,358.7 L981.8,358.0 L981.7,355.8 L981.7,354.0 L981.8,353.0 L982.5,350.8 L983.0,349.9 L983.2,349.6 L983.5,347.7 L983.1,348.1 L983.3,347.0 L983.9,348.3 L984.4,349.5 L984.0,350.8 L984.1,351.0 L984.3,351.9 L984.0,353.4 L984.1,355.3 L984.4,356.0 L983.9,357.1 L984.2,358.9 L984.4,360.9 L984.8,361.7 L984.3,363.5 L984.9,364.5 L984.5,366.8 L984.2,367.4 L985.0,369.6 L984.5,369.8 L985.0,372.0 L984.9,373.7 L985.0,373.9 L984.3,374.7 L984.7,375.9 L984.4,376.2 L984.9,377.4 L984.7,378.5 L985.1,377.3 L985.1,377.9 L985.1,377.0 L984.9,375.4 L985.8,374.7 L985.7,372.7 L985.6,371.9 L985.5,370.6 L985.9,369.7 L986.0,367.3 L985.7,365.6 L986.6,364.3 L986.1,363.4 L986.8,363.6 L988.1,361.9 L988.9,361.5" stroke="#2a4496"/>
<path d="M78.9,1230.7 L80.4,1231.4 L82.0,1230.2 L84.1,1230.3 L85.3,1231.9 L86.5,1231.2 L87.8,1232.0 L89.1,1231.5 L90.4,1231.3 L91.8,1231.6 L93.1,1231.4 L94.4,1233.0 L95.7,1232.5 L96.9,1232.2 L98.0,1232.5 L100.1,1232.6 L102.2,1232.1 L104.2,1233.9 L106.2,1233.4 L108.3,1234.3 L110.3,1233.4 L112.3,1233.9 L114.4,1233.3 L116.5,1233.1 L118.6,1234.9 L120.6,1234.9 L122.7,1234.1 L124.9,1235.4 L127.1,1235.4 L128.2,1234.5 L129.3,1235.2 L130.4,1236.0 L132.6,1235.3 L134.7,1236.3 L136.7,1235.1 L138.6,1235.4 L140.4,1236.1 L142.0,1235.1 L143.2,1235.1 L145.3,1235.9 L147.2,1234.8 L149.0,1235.0 L151.1,1233.7 L152.3,1233.5 L153.5,1233.9 L154.6,1233.5 L155.7,1234.9 L157.7,1233.3 L158.8,1233.4 L160.8,1231.6 L162.3,1230.8 L163.5,1228.6 L165.6,1228.6 L167.1,1227.1 L168.2,1224.9 L168.6,1223.7 L170.1,1220.0 L171.5,1219.8 L173.0,1217.3 L174.4,1215.3 L175.8,1212.9 L177.2,1210.4 L178.5,1207.4 L179.9,1204.2 L181.2,1202.5 L182.4,1198.9 L183.7,1195.6 L184.9,1193.6 L186.1,1189.6 L187.4,1187.0 L188.8,1185.2 L190.1,1180.9 L191.4,1178.6 L192.7,1176.4 L194.0,1173.3 L195.3,1169.1 L196.5,1166.6 L197.7,1164.3 L198.9,1160.6 L200.0,1158.9 L201.3,1154.6 L202.5,1154.1 L203.7,1151.4 L205.1,1148.0 L205.7,1146.6 L206.0,1145.7 L206.2,1144.7 L206.5,1143.7 L206.8,1142.7 L208.0,1139.7 L209.3,1136.4 L210.9,1134.7 L212.5,1131.1 L214.0,1129.6 L215.4,1126.2 L216.8,1123.0 L218.1,1120.1 L219.4,1118.1 L220.8,1114.7 L222.2,1113.1 L223.7,1109.0 L225.2,1107.4 L226.8,1105.7 L228.4,1103.7 L230.1,1103.0 L231.5,1100.7 L233.0,1099.5 L234.5,1097.6 L235.9,1095.3 L237.2,1093.8 L238.5,1091.4 L239.8,1089.8 L241.1,1089.4 L242.5,1086.8 L244.0,1086.0 L245.5,1083.5 L247.0,1082.9 L248.4,1080.9 L249.7,1079.6 L251.0,1077.5 L252.3,1075.3 L253.5,1073.8 L254.9,1071.0 L256.2,1067.8 L257.5,1066.0 L258.9,1062.7 L260.3,1061.4 L262.4,1060.8 L264.3,1060.0 L266.3,1061.1 L268.2,1063.2 L269.4,1064.0 L270.6,1067.2 L271.7,1070.9 L272.1,1072.0 L273.2,1074.3 L274.5,1078.4 L275.9,1081.1 L277.4,1083.1 L278.9,1085.9 L280.4,1089.1 L281.7,1092.1 L283.1,1094.1 L284.4,1098.2 L285.7,1100.2 L286.8,1103.6 L288.2,1106.6 L289.7,1110.4 L291.0,1114.9 L292.3,1117.4 L293.6,1120.5 L295.1,1122.2 L296.6,1125.1 L298.2,1127.8 L299.4,1129.2 L301.1,1130.8 L302.9,1131.9 L304.7,1132.1 L306.5,1133.4 L308.2,1135.0 L310.0,1135.4 L311.7,1137.9 L313.3,1138.9 L314.7,1140.7 L316.3,1142.4 L317.8,1145.5 L319.4,1148.8 L321.0,1150.9 L322.1,1152.2 L323.3,1155.7 L324.4,1157.4 L325.6,1158.2 L326.8,1159.2 L328.5,1162.7 L330.2,1164.0 L331.9,1164.0 L333.3,1164.2 L334.7,1162.5 L335.9,1161.7 L337.2,1157.9 L337.8,1156.6 L338.1,1155.6 L338.3,1154.6 L338.5,1153.6 L338.8,1152.5 L339.0,1151.5 L339.3,1150.4 L339.5,1149.4 L339.7,1148.4 L339.9,1147.4 L340.1,1146.3 L340.2,1145.2 L340.4,1144.1 L340.5,1143.0 L340.7,1141.8 L340.8,1140.7 L341.0,1139.7 L341.2,1138.7 L341.4,1137.8 L343.3,1135.8 L345.4,1135.0 L346.6,1132.5 L347.4,1131.1 L347.6,1130.2 L347.8,1129.3 L347.9,1128.3 L348.1,1127.2 L348.2,1126.1 L348.3,1124.9 L348.4,1123.7 L348.5,1122.5 L348.6,1121.3 L348.7,1120.0 L348.8,1118.8 L348.9,1117.6 L349.0,1116.5 L349.1,1115.3 L349.2,1114.2 L349.3,1113.2 L349.5,1112.2 L349.7,1111.1 L349.9,1109.9 L350.0,1108.6 L350.2,1107.3 L350.4,1105.9 L350.6,1104.6 L350.8,1103.3 L350.9,1102.0 L351.1,1100.8 L351.3,1099.7 L351.5,1098.7 L351.7,1097.8 L351.9,1097.1 L353.2,1097.4 L353.9,1099.3 L354.3,1100.7 L354.7,1102.2 L355.0,1103.6 L355.2,1104.4 L355.4,1105.3 L355.5,1106.2 L355.7,1107.1 L355.9,1108.1 L356.0,1109.2 L356.2,1110.2 L356.4,1111.3 L356.5,1112.4 L356.7,1113.5 L356.8,1114.6 L357.0,1115.7 L357.1,1116.8 L357.3,1117.9 L357.5,1119.0 L357.7,1120.0 L357.9,1121.1 L358.1,1122.0 L358.3,1123.0 L358.6,1124.1 L358.8,1125.2 L359.1,1126.4 L359.3,1127.5 L359.6,1128.7 L359.8,1129.8 L360.1,1130.9 L360.4,1132.0 L360.7,1133.0 L362.2,1136.1 L363.6,1138.4 L364.8,1139.3 L365.9,1138.7 L367.4,1137.8 L368.7,1135.1 L369.1,1133.8 L369.4,1132.7 L370.9,1133.5 L371.2,1133.8 L371.6,1135.1 L371.9,1136.6 L372.2,1138.0 L372.3,1138.8 L372.5,1139.6 L372.6,1140.4 L372.7,1141.4 L372.8,1142.4 L372.9,1143.4 L373.0,1144.4 L373.1,1145.5 L373.2,1146.6 L373.3,1147.7 L373.3,1148.9 L373.4,1150.0 L373.5,1151.1 L373.6,1152.3 L373.7,1153.4 L373.8,1154.5 L373.9,1155.6 L374.0,1156.6 L374.1,1157.6 L374.3,1158.6 L374.4,1159.5 L374.6,1160.6 L374.8,1161.7 L375.0,1162.8 L375.1,1163.9 L375.3,1164.9 L375.5,1165.9 L375.7,1166.9 L376.0,1167.9 L376.2,1168.9 L376.5,1169.8 L378.2,1173.2 L379.4,1176.0 L380.8,1177.1 L382.4,1178.8 L384.0,1180.5 L385.5,1181.6 L387.0,1182.8 L388.6,1183.6 L390.2,1186.3 L392.0,1187.2 L393.7,1188.5 L395.6,1190.3 L397.5,1189.7 L399.5,1191.6 L401.5,1190.9 L403.5,1192.8 L405.5,1193.7 L407.5,1193.4 L409.5,1194.6 L411.5,1196.0 L413.4,1195.9 L415.2,1196.1 L416.3,1195.6 L418.3,1195.1 L420.4,1195.6 L421.6,1195.8 L423.2,1195.8 L424.9,1196.5 L426.8,1196.9 L428.8,1198.7 L430.8,1199.5 L432.8,1199.5 L434.8,1200.2 L436.7,1201.4 L438.7,1201.9 L440.7,1203.4 L442.7,1202.9 L444.7,1203.3 L446.7,1205.0 L448.7,1204.1 L450.7,1205.5 L452.7,1205.7 L454.6,1207.4 L456.7,1207.7 L458.7,1209.0 L460.7,1208.7 L462.6,1210.4 L464.4,1210.8 L466.1,1210.9 L468.0,1211.5 L470.0,1211.0 L472.1,1209.3 L473.9,1210.0 L475.8,1211.0 L477.8,1211.7 L479.8,1212.5 L481.8,1213.9 L483.8,1214.6 L485.9,1216.7 L487.9,1217.2 L489.9,1217.4 L491.7,1218.2 L493.7,1218.2 L495.8,1216.5 L497.9,1215.9 L499.0,1216.2 L501.1,1216.6 L502.4,1216.9 L503.6,1214.3 L505.3,1212.3 L507.3,1214.0 L508.4,1214.9 L509.5,1214.6 L510.7,1214.2 L511.9,1215.4 L513.7,1215.8 L515.7,1216.0 L517.7,1217.3 L519.7,1216.8 L521.7,1219.1 L523.7,1219.2 L525.9,1219.8 L528.0,1221.0 L530.0,1220.8 L532.1,1220.0 L533.2,1219.5 L535.4,1218.6 L537.5,1218.8 L539.6,1221.9 L541.4,1221.7 L542.9,1218.1 L544.1,1217.9 L544.8,1220.5 L545.0,1221.6 L545.1,1222.9 L545.2,1224.3 L545.4,1225.7 L545.5,1227.0 L545.7,1228.1 L546.0,1228.8 L547.8,1228.1 L549.8,1228.1 L551.0,1228.8 L552.1,1227.5 L553.3,1227.3 L554.5,1225.2 L555.6,1222.7 L556.9,1220.7 L558.9,1220.9 L561.0,1223.0 L562.9,1221.5 L565.1,1220.8 L567.0,1220.8 L568.1,1220.3 L569.2,1221.0 L570.4,1219.8 L571.6,1219.4 L572.7,1220.4 L574.7,1220.9 L576.1,1222.4 L576.9,1224.2 L577.2,1225.5 L579.2,1227.9 L580.4,1228.2 L581.5,1228.0 L582.6,1226.4 L584.6,1226.5 L586.3,1226.1 L587.7,1224.3 L589.4,1223.1 L590.9,1222.6 L591.8,1226.1 L593.4,1228.4 L595.6,1228.7 L597.5,1229.0 L599.3,1228.8 L601.0,1226.9 L603.1,1226.7 L604.3,1227.5 L605.5,1227.1 L606.7,1228.2 L607.8,1226.9 L610.0,1228.6 L612.1,1228.9 L614.2,1229.1 L616.3,1228.8 L618.4,1228.8 L620.6,1229.8 L622.8,1229.7 L624.9,1229.8 L627.0,1229.7 L629.0,1229.7 L631.0,1229.7 L632.9,1229.4 L634.8,1228.9 L636.9,1226.8 L639.0,1226.3 L640.9,1225.6 L642.4,1224.4 L643.9,1221.1 L645.1,1218.0 L646.1,1215.7 L646.4,1214.7 L646.7,1213.6 L646.9,1212.5 L647.2,1211.4 L647.4,1210.5 L647.6,1209.6 L647.7,1208.6 L647.9,1207.6 L648.0,1206.6 L648.1,1205.6 L648.2,1204.5 L648.4,1203.5 L648.5,1202.4 L648.6,1201.3 L648.7,1200.3 L648.8,1199.3 L648.9,1198.3 L649.1,1197.3 L649.2,1196.4 L649.4,1195.3 L649.5,1194.2 L649.7,1193.2 L649.9,1192.2 L650.1,1191.2 L650.3,1190.3 L650.4,1189.2 L650.6,1188.2 L650.8,1187.1 L651.0,1186.0 L651.1,1185.1 L651.3,1184.2 L651.5,1183.2 L651.6,1182.2 L651.8,1181.2 L651.9,1180.1 L652.1,1179.1 L652.3,1178.0 L652.4,1177.0 L652.6,1175.9 L652.7,1174.9 L652.9,1173.8 L653.0,1172.8 L653.2,1171.8 L653.3,1170.8 L653.5,1169.8 L653.6,1168.9 L653.7,1167.7 L653.8,1166.5 L653.9,1165.3 L653.9,1164.1 L654.0,1162.8 L654.0,1161.7 L654.1,1160.6 L654.2,1159.6 L654.4,1158.8 L655.9,1156.0 L658.0,1156.3 L659.2,1158.3 L660.6,1161.9 L661.3,1159.6 L661.5,1158.9 L661.6,1158.1 L661.7,1157.1 L661.8,1156.1 L662.0,1155.0 L662.1,1153.8 L662.2,1152.6 L662.3,1151.3 L662.4,1150.0 L662.4,1148.7 L662.5,1147.3 L662.6,1145.9 L662.7,1144.6 L662.8,1143.3 L662.9,1141.9 L663.0,1140.7 L663.1,1139.4 L663.2,1138.3 L663.3,1137.2 L663.4,1136.2 L663.5,1135.2 L663.6,1134.2 L663.7,1133.2 L663.9,1132.2 L664.0,1131.2 L664.1,1130.2 L664.2,1129.2 L664.3,1128.2 L664.4,1127.2 L664.5,1126.2 L664.6,1125.2 L664.7,1124.2 L664.9,1123.2 L665.0,1122.2 L665.1,1121.1 L665.2,1120.1 L665.3,1119.0 L665.4,1118.0 L665.5,1116.9 L665.6,1115.8 L665.7,1114.7 L665.8,1113.6 L665.9,1112.4 L666.0,1111.5 L666.1,1110.6 L666.1,1109.7 L666.2,1108.7 L666.3,1107.8 L666.3,1106.8 L666.4,1105.8 L666.5,1104.8 L666.6,1103.8 L666.6,1102.8 L666.7,1101.8 L666.8,1100.8 L666.9,1099.8 L666.9,1098.7 L667.0,1097.7 L667.1,1096.6 L667.1,1095.6 L667.2,1094.5 L667.3,1093.5 L667.3,1092.4 L667.4,1091.4 L667.5,1090.3 L667.5,1089.2 L667.6,1088.2 L667.7,1087.1 L667.7,1086.0 L667.8,1085.0 L667.9,1083.9 L667.9,1082.9 L668.0,1081.8 L668.0,1080.8 L668.1,1079.8 L668.2,1078.7 L668.2,1077.7 L668.3,1076.7 L668.4,1075.7 L668.4,1074.7 L668.5,1073.7 L668.5,1072.8 L668.6,1071.8 L668.7,1070.7 L668.7,1069.6 L668.8,1068.6 L668.9,1067.5 L668.9,1066.5 L669.0,1065.4 L669.1,1064.4 L669.1,1063.3 L669.2,1062.3 L669.3,1061.3 L669.3,1060.2 L669.4,1059.2 L669.5,1058.2 L669.5,1057.2 L669.6,1056.2 L669.7,1055.2 L669.7,1054.1 L669.8,1053.1 L669.8,1052.1 L669.9,1051.1 L670.0,1050.1 L670.0,1049.1 L670.1,1048.1 L670.1,1047.1 L670.2,1046.1 L670.2,1045.1 L670.3,1044.1 L670.3,1043.1 L670.4,1042.0 L670.5,1041.0 L670.5,1040.0 L670.5,1039.0 L670.6,1038.0 L670.6,1036.9 L670.7,1035.9 L670.7,1034.9 L670.8,1033.9 L670.8,1032.9 L670.8,1031.9 L670.9,1030.9 L670.9,1029.8 L670.9,1028.8 L670.9,1027.8 L671.0,1026.8 L671.0,1025.8 L671.0,1024.8 L671.1,1023.8 L671.1,1022.8 L671.1,1021.8 L671.1,1020.7 L671.2,1019.7 L671.2,1018.7 L671.2,1017.6 L671.3,1016.6 L671.3,1015.6 L671.3,1014.5 L671.4,1013.5 L671.4,1012.4 L671.5,1011.3 L671.5,1010.3 L671.6,1009.2 L671.6,1008.1 L671.6,1007.1 L671.7,1006.1 L671.7,1005.1 L671.7,1004.0 L671.8,1002.9 L671.8,1001.8 L671.8,1000.7 L671.9,999.5 L671.9,998.4 L671.9,997.2 L671.9,996.0 L671.9,994.8 L672.0,993.6 L672.0,992.4 L672.0,991.2 L672.0,990.0 L672.1,988.8 L672.1,987.6 L672.1,986.4 L672.2,985.2 L672.2,984.0 L672.2,982.9 L672.3,981.7 L672.3,980.6 L672.4,979.5 L672.4,978.4 L672.5,977.4 L672.6,976.4 L672.6,975.4 L672.7,974.5 L672.8,973.6 L672.9,972.7 L673.0,971.9 L673.1,971.1 L673.2,970.4 L673.3,969.7 L673.5,969.1 L673.6,968.5 L673.7,968.0 L675.6,966.2 L676.9,962.4 L677.1,961.3 L677.2,960.1 L677.4,958.9 L677.6,957.7 L677.8,956.6 L678.0,955.4 L678.3,954.1 L678.5,952.8 L678.8,951.6 L679.1,950.5 L680.7,951.4 L681.7,953.4 L681.9,954.0 L682.0,954.7 L682.2,955.4 L682.3,956.2 L682.5,957.0 L682.6,957.9 L682.7,958.8 L682.8,959.8 L682.9,960.8 L683.0,961.8 L683.1,962.8 L683.2,963.9 L683.3,965.0 L683.4,966.2 L683.5,967.3 L683.6,968.5 L683.6,969.7 L683.7,970.9 L683.8,972.1 L683.9,973.3 L683.9,974.5 L684.0,975.7 L684.1,976.9 L684.2,977.8 L684.2,978.6 L684.3,979.5 L684.3,980.4 L684.4,981.3 L684.4,982.2 L684.4,983.2 L684.5,984.1 L684.5,985.1 L684.6,986.0 L684.6,987.0 L684.6,988.0 L684.7,989.0 L684.7,990.0 L684.7,991.0 L684.7,992.0 L684.8,993.1 L684.8,994.1 L684.8,995.1 L684.9,996.2 L684.9,997.2 L684.9,998.3 L684.9,999.3 L685.0,1000.4 L685.0,1001.5 L685.0,1002.6 L685.0,1003.6 L685.1,1004.7 L685.1,1005.8 L685.1,1006.9 L685.1,1007.9 L685.1,1009.0 L685.2,1010.1 L685.2,1011.2 L685.2,1012.2 L685.3,1013.3 L685.3,1014.4 L685.3,1015.4 L685.3,1016.5 L685.4,1017.6 L685.4,1018.6 L685.4,1019.7 L685.5,1020.7 L685.5,1021.7 L685.6,1022.8 L685.6,1023.8 L685.6,1024.8 L685.7,1025.8 L685.7,1026.9 L685.8,1027.9 L685.8,1029.0 L685.8,1030.0 L685.9,1031.0 L685.9,1032.1 L686.0,1033.2 L686.0,1034.2 L686.1,1035.3 L686.1,1036.3 L686.1,1037.4 L686.2,1038.5 L686.2,1039.5 L686.3,1040.6 L686.3,1041.6 L686.4,1042.7 L686.4,1043.8 L686.4,1044.8 L686.5,1045.9 L686.5,1046.9 L686.6,1048.0 L686.6,1049.0 L686.7,1050.1 L686.7,1051.1 L686.8,1052.2 L686.8,1053.2 L686.9,1054.2 L686.9,1055.3 L687.0,1056.3 L687.0,1057.3 L687.1,1058.3 L687.2,1059.3 L687.2,1060.3 L687.3,1061.3 L687.4,1062.2 L687.4,1063.2 L687.5,1064.2 L687.6,1065.1 L687.6,1066.1 L687.7,1067.0 L687.8,1067.9 L687.8,1068.8 L687.9,1069.7 L688.0,1070.6 L688.1,1071.8 L688.2,1073.0 L688.3,1074.3 L688.5,1075.6 L688.6,1076.9 L688.7,1078.2 L688.8,1079.6 L689.0,1081.0 L689.1,1082.3 L689.2,1083.7 L689.4,1085.0 L689.5,1086.3 L689.6,1087.6 L689.8,1088.8 L689.9,1090.0 L690.1,1091.1 L690.2,1092.2 L690.4,1093.2 L690.5,1094.1 L690.6,1095.0 L690.8,1095.7 L690.9,1096.4 L691.1,1097.0 L691.2,1097.4 L692.1,1096.8 L692.3,1096.2 L692.4,1095.5 L692.5,1094.7 L692.6,1093.7 L692.8,1092.7 L692.9,1091.6 L693.0,1090.5 L693.2,1089.3 L693.3,1088.0 L693.4,1086.7 L693.5,1085.4 L693.7,1084.1 L693.8,1082.7 L693.9,1081.4 L694.0,1080.0 L694.2,1078.7 L694.3,1077.4 L694.4,1076.1 L694.5,1074.9 L694.7,1073.7 L694.8,1072.6 L694.9,1071.6 L695.0,1070.6 L695.1,1069.5 L695.3,1068.4 L695.4,1067.3 L695.5,1066.3 L695.7,1065.2 L695.8,1064.2 L695.9,1063.2 L696.1,1062.2 L696.2,1061.2 L696.3,1060.2 L696.4,1059.2 L696.6,1058.2 L696.7,1057.2 L696.8,1056.2 L696.9,1055.2 L697.1,1054.1 L697.2,1053.0 L697.3,1051.9 L697.4,1050.9 L697.5,1049.9 L697.6,1048.8 L697.7,1047.7 L697.7,1046.5 L697.8,1045.3 L697.9,1044.1 L697.9,1042.9 L698.0,1041.6 L698.1,1040.4 L698.1,1039.1 L698.2,1037.9 L698.3,1036.7 L698.3,1035.5 L698.4,1034.4 L698.5,1033.2 L698.6,1032.2 L698.7,1031.2 L698.8,1030.2 L698.9,1029.3 L699.1,1028.5 L699.2,1027.8 L699.4,1027.1 L699.5,1026.6 L701.3,1025.4 L701.8,1022.8 L702.0,1021.7 L702.1,1020.3 L702.3,1018.9 L702.4,1017.5 L702.6,1016.1 L702.7,1014.8 L702.8,1013.7 L703.0,1012.8 L703.1,1012.2 L703.8,1013.1 L703.9,1014.0 L704.1,1014.9 L704.3,1016.0 L704.4,1017.3 L704.6,1018.5 L704.8,1019.9 L705.0,1021.2 L705.1,1022.5 L705.3,1023.8 L705.5,1024.9 L705.7,1026.0 L705.9,1026.9 L706.2,1028.0 L706.5,1028.9 L707.7,1032.4 L708.0,1033.5 L708.3,1034.7 L708.4,1035.3 L708.5,1036.0 L708.7,1036.8 L708.8,1037.5 L708.9,1038.3 L709.0,1039.1 L709.1,1040.0 L709.2,1040.9 L709.3,1041.8 L709.4,1042.7 L709.4,1043.7 L709.5,1044.7 L709.6,1045.7 L709.7,1046.7 L709.8,1047.7 L709.9,1048.8 L709.9,1049.8 L710.0,1050.9 L710.1,1052.0 L710.2,1053.1 L710.3,1054.2 L710.3,1055.3 L710.4,1056.4 L710.5,1057.5 L710.5,1058.7 L710.6,1059.8 L710.7,1060.9 L710.8,1062.0 L710.8,1063.1 L710.9,1064.2 L711.0,1065.3 L711.1,1066.4 L711.2,1067.5 L711.2,1068.5 L711.3,1069.6 L711.4,1070.6 L711.5,1071.6 L711.6,1072.6 L711.6,1073.6 L711.7,1074.6 L711.8,1075.6 L711.9,1076.7 L712.0,1077.7 L712.0,1078.7 L712.1,1079.8 L712.2,1080.8 L712.3,1081.9 L712.4,1082.9 L712.4,1084.0 L712.5,1085.0 L712.6,1086.1 L712.7,1087.2 L712.7,1088.2 L712.8,1089.3 L712.9,1090.3 L713.0,1091.4 L713.1,1092.4 L713.1,1093.5 L713.2,1094.5 L713.3,1095.5 L713.4,1096.5 L713.5,1097.5 L713.5,1098.6 L713.6,1099.6 L713.7,1100.5 L713.8,1101.5 L713.8,1102.5 L713.9,1103.4 L714.0,1104.4 L714.1,1105.3 L714.2,1106.2 L714.3,1107.1 L714.3,1108.0 L714.4,1108.9 L714.5,1109.7 L714.6,1110.9 L714.7,1112.2 L714.8,1113.5 L715.0,1114.8 L715.1,1116.2 L715.2,1117.6 L715.3,1118.9 L715.4,1120.2 L715.5,1121.5 L715.6,1122.8 L715.8,1124.0 L715.9,1125.1 L716.0,1126.2 L716.1,1127.1 L716.2,1127.9 L716.4,1128.6 L716.5,1129.2 L716.6,1129.6 L717.3,1129.1 L717.5,1128.5 L717.6,1127.7 L717.8,1126.8 L717.9,1125.8 L718.1,1124.6 L718.3,1123.4 L718.4,1122.2 L718.6,1120.8 L718.8,1119.5 L718.9,1118.2 L719.1,1116.8 L719.2,1115.5 L719.4,1114.2 L719.5,1112.9 L719.7,1111.8 L719.9,1110.7 L720.0,1109.7 L720.2,1108.6 L720.3,1107.5 L720.5,1106.5 L720.7,1105.4 L720.8,1104.4 L721.0,1103.3 L721.1,1102.3 L721.3,1101.3 L721.4,1100.4 L721.6,1099.4 L721.8,1098.4 L721.9,1097.5 L722.1,1096.5 L722.3,1095.6 L722.5,1094.4 L722.7,1093.2 L722.9,1091.9 L723.1,1090.6 L723.3,1089.3 L723.5,1088.2 L723.7,1087.2 L725.4,1086.5 L727.0,1087.5 L728.6,1090.0 L730.2,1091.8 L731.7,1095.1 L732.9,1094.2 L734.1,1092.9 L735.7,1096.1 L737.1,1100.9 L738.3,1100.9 L739.0,1099.3 L739.2,1098.4 L739.4,1097.3 L739.6,1096.2 L739.8,1095.0 L740.0,1093.7 L740.2,1092.4 L740.4,1091.1 L740.5,1089.9 L740.7,1088.6 L740.9,1087.4 L741.1,1086.3 L741.3,1085.3 L741.4,1084.2 L741.6,1083.0 L741.8,1081.7 L742.0,1080.3 L742.1,1079.0 L742.3,1077.6 L742.5,1076.2 L742.6,1074.9 L742.8,1073.6 L742.9,1072.3 L743.1,1071.2 L743.3,1070.1 L743.4,1069.1 L743.6,1068.3 L743.7,1067.6 L743.9,1067.1 L744.7,1067.9 L744.9,1068.7 L745.1,1069.7 L745.2,1070.8 L745.4,1072.1 L745.6,1073.4 L745.8,1074.8 L746.0,1076.1 L746.2,1077.5 L746.4,1078.8 L746.6,1080.0 L746.8,1080.9 L747.0,1081.9 L747.1,1082.9 L747.3,1084.0 L747.5,1085.2 L747.7,1086.4 L747.9,1087.7 L748.1,1089.0 L748.3,1090.3 L748.5,1091.6 L748.7,1092.8 L749.0,1094.1 L749.2,1095.3 L749.4,1096.5 L749.7,1097.6 L749.9,1098.7 L750.1,1099.6 L750.4,1100.5 L750.7,1101.3 L752.0,1103.7 L753.5,1101.7 L755.2,1098.5 L756.7,1096.3 L758.2,1091.0 L759.7,1088.3 L760.9,1089.1 L762.3,1090.3 L763.8,1091.8 L765.3,1094.4 L766.5,1094.4 L767.7,1095.2 L768.9,1095.0 L770.3,1094.5 L771.1,1092.3 L771.3,1091.4 L771.5,1090.3 L771.7,1089.1 L771.8,1087.8 L771.9,1086.5 L772.0,1085.1 L772.1,1083.7 L772.2,1082.2 L772.3,1080.8 L772.4,1079.4 L772.4,1078.1 L772.5,1076.8 L772.6,1075.6 L772.8,1074.5 L772.9,1073.4 L773.0,1072.6 L773.2,1071.8 L774.9,1071.2 L777.0,1072.8 L779.0,1070.9 L780.9,1070.0 L782.1,1072.9 L782.8,1074.2 L783.2,1075.4 L783.5,1076.7 L783.8,1078.0 L784.1,1079.3 L784.4,1080.5 L784.7,1081.8 L785.0,1082.9 L785.3,1083.9 L786.6,1086.7 L788.0,1088.7 L788.2,1090.2 L788.4,1091.1 L788.7,1092.1 L788.9,1093.3 L789.1,1094.5 L789.3,1095.8 L789.5,1097.2 L789.6,1098.6 L789.8,1100.0 L790.0,1101.3 L790.2,1102.7 L790.4,1103.9 L790.6,1105.1 L790.8,1106.1 L791.0,1107.0 L791.2,1107.8 L792.3,1109.4 L793.7,1105.7 L794.6,1103.4 L795.0,1101.9 L795.2,1101.3 L795.3,1100.6 L795.4,1099.9 L795.6,1099.0 L795.7,1098.1 L795.9,1097.2 L796.0,1096.2 L796.1,1095.1 L796.2,1094.0 L796.4,1092.8 L796.5,1091.6 L796.6,1090.4 L796.7,1089.1 L796.8,1087.8 L796.9,1086.5 L797.1,1085.1 L797.2,1083.8 L797.3,1082.4 L797.4,1081.0 L797.5,1079.6 L797.6,1078.2 L797.7,1076.9 L797.8,1075.5 L797.9,1074.2 L798.0,1072.8 L798.1,1071.5 L798.2,1070.2 L798.3,1069.0 L798.4,1067.8 L798.6,1066.6 L798.7,1065.5 L798.8,1064.4 L798.9,1063.3 L799.0,1062.4 L799.1,1061.5 L799.3,1060.6 L799.4,1059.8 L799.5,1059.1 L799.6,1058.5 L799.8,1057.9 L799.9,1057.5 L801.2,1056.7 L801.9,1059.8 L802.3,1061.3 L802.7,1062.8 L803.0,1064.2 L803.4,1065.5 L804.6,1067.4 L805.3,1065.8 L805.5,1064.9 L805.6,1064.0 L805.8,1062.9 L806.0,1061.7 L806.2,1060.4 L806.3,1059.1 L806.5,1057.8 L806.7,1056.4 L806.8,1055.1 L807.0,1053.8 L807.2,1052.6 L807.3,1051.4 L807.5,1050.3 L807.7,1049.3 L807.8,1048.2 L808.0,1047.1 L808.2,1046.0 L808.3,1044.9 L808.5,1043.8 L808.6,1042.7 L808.8,1041.6 L808.9,1040.5 L809.1,1039.4 L809.3,1038.3 L809.4,1037.3 L809.6,1036.3 L809.8,1035.2 L810.0,1034.3 L810.2,1033.3 L810.4,1032.4 L810.6,1031.6 L811.0,1030.4 L812.2,1027.0 L813.4,1024.5 L813.8,1023.3 L814.0,1022.5 L814.2,1021.7 L814.4,1020.8 L814.6,1020.0 L814.8,1019.1 L814.9,1018.1 L815.1,1017.2 L815.2,1016.3 L815.4,1015.3 L815.5,1014.3 L815.7,1013.2 L815.8,1012.2 L816.0,1011.1 L816.1,1010.0 L816.2,1008.9 L816.3,1007.7 L816.5,1006.5 L816.6,1005.3 L816.7,1004.1 L816.8,1003.3 L816.8,1002.5 L816.9,1001.7 L817.0,1000.8 L817.0,1000.0 L817.1,999.1 L817.1,998.2 L817.2,997.2 L817.2,996.3 L817.3,995.3 L817.3,994.4 L817.4,993.4 L817.4,992.4 L817.5,991.4 L817.5,990.4 L817.5,989.3 L817.6,988.3 L817.6,987.2 L817.7,986.2 L817.7,985.1 L817.7,984.0 L817.8,983.0 L817.8,981.9 L817.8,980.8 L817.8,979.7 L817.9,978.6 L817.9,977.5 L817.9,976.4 L818.0,975.4 L818.0,974.3 L818.0,973.2 L818.0,972.1 L818.1,971.0 L818.1,970.0 L818.1,968.9 L818.2,967.9 L818.2,966.8 L818.2,965.8 L818.2,964.8 L818.3,963.7 L818.3,962.7 L818.4,961.7 L818.4,960.8 L818.4,959.8 L818.5,958.8 L818.5,957.9 L818.6,957.0 L818.6,956.1 L818.7,955.0 L818.7,953.8 L818.8,952.6 L818.8,951.5 L818.8,950.3 L818.9,949.1 L818.9,948.0 L819.0,946.8 L819.0,945.6 L819.0,944.5 L819.1,943.3 L819.1,942.2 L819.2,941.1 L819.2,939.9 L819.3,938.8 L819.3,937.8 L819.4,936.7 L819.4,935.6 L819.5,934.6 L819.5,933.6 L819.6,932.6 L819.7,931.7 L819.8,930.8 L819.9,929.9 L820.0,929.0 L820.1,928.2 L820.2,927.4 L820.3,926.7 L820.5,926.0 L820.6,925.3 L820.9,924.1 L822.1,921.5 L823.4,918.1 L823.7,917.7 L824.0,916.8 L824.3,915.9 L824.6,914.9 L824.8,913.9 L825.1,912.8 L825.4,911.7 L825.7,910.6 L826.0,909.5 L826.3,908.5 L826.5,907.4 L826.8,906.3 L827.0,905.2 L827.3,904.2 L827.6,903.1 L827.8,902.1 L828.0,901.0 L828.3,900.0 L828.5,898.9 L828.7,897.8 L828.9,896.8 L829.1,895.8 L829.3,894.7 L829.6,893.7 L829.8,892.7 L830.0,891.7 L830.2,890.7 L830.5,889.5 L830.7,888.2 L831.0,886.8 L831.2,885.4 L831.5,884.0 L831.7,882.8 L832.0,881.7 L832.2,880.9 L833.3,881.4 L833.4,882.0 L833.6,882.7 L833.7,883.5 L833.8,884.4 L834.0,885.4 L834.1,886.5 L834.3,887.6 L834.4,888.8 L834.5,890.0 L834.7,891.3 L834.8,892.6 L834.9,893.9 L835.0,895.3 L835.2,896.6 L835.3,897.9 L835.4,899.3 L835.5,900.5 L835.7,901.8 L835.8,903.0 L835.9,904.2 L836.0,905.1 L836.1,906.0 L836.2,906.8 L836.2,907.7 L836.3,908.7 L836.4,909.6 L836.5,910.5 L836.5,911.5 L836.6,912.4 L836.7,913.4 L836.8,914.4 L836.8,915.3 L836.9,916.3 L837.0,917.3 L837.1,918.3 L837.1,919.3 L837.2,920.3 L837.3,921.3 L837.3,922.4 L837.4,923.4 L837.5,924.4 L837.5,925.5 L837.6,926.5 L837.6,927.6 L837.7,928.6 L837.8,929.7 L837.8,930.7 L837.9,931.8 L838.0,932.8 L838.0,933.9 L838.1,934.9 L838.2,936.0 L838.2,937.0 L838.3,938.1 L838.3,939.2 L838.4,940.2 L838.5,941.3 L838.5,942.3 L838.6,943.4 L838.7,944.4 L838.7,945.5 L838.8,946.5 L838.9,947.5 L838.9,948.4 L839.0,949.4 L839.0,950.4 L839.1,951.4 L839.2,952.4 L839.2,953.4 L839.3,954.4 L839.3,955.4 L839.4,956.4 L839.4,957.4 L839.5,958.4 L839.6,959.4 L839.6,960.4 L839.7,961.5 L839.7,962.5 L839.8,963.5 L839.8,964.5 L839.9,965.5 L840.0,966.6 L840.0,967.6 L840.1,968.6 L840.1,969.6 L840.2,970.6 L840.2,971.7 L840.3,972.7 L840.3,973.7 L840.4,974.7 L840.5,975.7 L840.5,976.8 L840.6,977.8 L840.6,978.8 L840.7,979.8 L840.8,980.8 L840.8,981.8 L840.9,982.8 L840.9,983.8 L841.0,984.8 L841.1,985.8 L841.1,986.8 L841.2,987.8 L841.3,988.7 L841.3,989.7 L841.4,990.7 L841.5,991.6 L841.6,992.6 L841.6,993.6 L841.7,994.5 L841.8,995.6 L841.9,996.6 L842.0,997.7 L842.1,998.8 L842.1,999.8 L842.2,1000.9 L842.3,1001.9 L842.4,1003.0 L842.5,1004.0 L842.6,1005.1 L842.7,1006.1 L842.8,1007.1 L842.9,1008.2 L843.0,1009.2 L843.1,1010.2 L843.2,1011.3 L843.3,1012.3 L843.5,1013.3 L843.6,1014.3 L843.7,1015.3 L843.8,1016.3 L843.9,1017.3 L844.0,1018.3 L844.1,1019.3 L844.2,1020.3 L844.3,1021.3 L844.4,1022.3 L844.5,1023.3 L844.6,1024.3 L844.7,1025.3 L844.8,1026.2 L844.9,1027.2 L845.0,1028.2 L845.1,1029.1 L845.2,1030.1 L845.3,1031.0 L845.4,1032.0 L845.5,1032.9 L845.6,1034.0 L845.7,1035.1 L845.8,1036.3 L845.9,1037.4 L846.0,1038.5 L846.1,1039.7 L846.2,1040.8 L846.3,1042.0 L846.3,1043.1 L846.4,1044.3 L846.5,1045.4 L846.6,1046.5 L846.7,1047.6 L846.8,1048.7 L846.9,1049.8 L846.9,1050.9 L847.0,1051.9 L847.1,1053.0 L847.2,1054.0 L847.3,1055.0 L847.5,1055.9 L847.6,1056.8 L847.7,1057.7 L847.8,1058.6 L847.9,1059.4 L848.1,1060.2 L848.2,1061.0 L848.4,1061.7 L848.7,1062.9 L849.1,1063.9 L850.2,1066.6 L851.3,1068.7 L851.5,1070.2 L851.8,1071.1 L852.0,1072.0 L852.2,1073.0 L852.4,1074.1 L852.6,1075.1 L852.9,1076.2 L853.1,1077.4 L853.3,1078.5 L853.5,1079.6 L853.8,1080.7 L854.0,1081.9 L854.3,1082.9 L854.5,1084.0 L854.8,1085.0 L855.1,1086.0 L856.7,1089.8 L857.9,1092.2 L859.2,1093.3 L860.6,1095.4 L861.9,1095.5 L863.9,1094.7 L865.7,1094.1 L866.9,1095.4 L867.2,1096.4 L867.5,1097.6 L867.8,1098.8 L868.2,1100.1 L869.6,1103.4 L871.3,1104.9 L873.4,1104.8 L875.4,1106.9 L877.1,1106.0 L878.6,1103.6 L879.9,1103.1 L881.1,1100.0 L882.0,1097.9 L882.2,1097.0 L882.4,1096.0 L882.6,1095.1 L882.8,1094.1 L883.0,1093.0 L883.2,1091.9 L883.3,1090.9 L883.5,1089.8 L883.7,1088.6 L883.8,1087.5 L884.0,1086.4 L884.1,1085.3 L884.3,1084.1 L884.5,1083.0 L884.7,1082.0 L884.9,1080.9 L885.1,1079.9 L885.3,1078.8 L885.5,1077.7 L885.6,1076.6 L885.8,1075.4 L886.0,1074.2 L886.1,1073.0 L886.3,1071.8 L886.4,1070.6 L886.6,1069.4 L886.8,1068.2 L887.0,1067.1 L887.2,1065.9 L887.4,1064.9 L887.6,1063.8 L887.8,1062.9 L888.1,1062.0 L889.3,1058.6 L890.8,1059.1 L892.1,1058.4 L893.3,1058.8 L894.5,1057.2 L895.6,1057.2 L897.1,1053.2 L898.5,1050.2 L899.8,1047.2 L901.3,1043.6 L902.8,1041.9 L904.3,1038.3 L905.7,1035.5 L906.7,1032.9 L907.0,1032.0 L907.3,1031.0 L907.6,1030.1 L907.8,1029.1 L908.1,1028.1 L908.3,1027.1 L908.5,1026.1 L908.7,1025.0 L909.0,1024.0 L909.2,1022.9 L909.4,1021.8 L909.7,1020.7 L909.9,1019.5 L910.1,1018.6 L910.2,1017.7 L910.4,1016.8 L910.6,1015.8 L910.7,1014.8 L910.9,1013.8 L911.0,1012.8 L911.2,1011.7 L911.3,1010.7 L911.5,1009.6 L911.6,1008.5 L911.7,1007.4 L911.9,1006.3 L912.0,1005.2 L912.2,1004.1 L912.4,1003.1 L912.5,1002.0 L912.7,1001.0 L912.9,999.9 L913.1,998.9 L913.3,997.9 L913.5,996.9 L913.7,996.0 L913.9,995.1 L914.2,994.2 L914.4,993.4 L915.6,990.9 L917.2,987.6 L918.3,986.8 L919.4,984.6 L920.9,982.6 L922.3,979.2 L923.6,977.0 L924.7,974.1 L925.8,969.8 L927.3,967.1 L928.6,962.6 L928.9,962.0 L929.2,961.0 L929.5,960.0 L929.8,959.0 L930.1,958.0 L930.3,957.1 L930.6,956.1 L930.8,955.1 L930.9,954.1 L931.1,953.1 L931.3,952.1 L931.5,951.1 L931.6,950.1 L931.8,949.0 L932.0,948.0 L932.1,946.9 L932.3,945.9 L932.5,944.8 L932.8,943.7 L933.0,942.6 L933.2,941.6 L933.4,940.7 L933.7,939.6 L933.9,938.6 L934.2,937.5 L934.4,936.4 L934.7,935.3 L934.9,934.2 L935.2,933.1 L935.5,931.9 L935.7,930.8 L936.0,929.7 L936.3,928.7 L936.6,927.6 L936.9,926.6 L937.2,925.6 L937.5,924.7 L938.7,922.0 L940.0,919.6 L941.3,918.1 L942.6,915.0 L943.7,913.7 L944.8,912.5 L946.4,909.9 L947.1,907.1 L947.4,906.0 L947.6,904.9 L947.9,903.7 L948.2,902.5 L948.5,901.4 L948.8,900.3 L949.1,899.4 L950.2,897.9 L951.6,896.3 L953.1,897.7 L954.6,898.4 L956.0,900.4 L957.4,898.4 L958.9,893.9 L960.8,893.7 L962.4,893.6 L963.6,895.4 L964.7,896.9 L966.1,895.5 L967.5,894.2 L968.9,895.2 L970.4,895.8 L972.3,893.7 L974.0,893.7 L975.4,897.2 L977.2,897.2 L979.1,898.5 L979.8,900.4 L980.0,901.8 L980.1,903.2 L980.3,904.5 L980.6,905.5 L981.9,905.5 L983.9,905.5 L985.0,906.9 L985.3,908.3 L985.6,909.5 L985.9,910.8 L986.2,912.1 L986.5,913.3 L987.7,915.0 L989.2,916.9 L990.8,916.3 L991.6,916.1" stroke="#e8101a"/>
</g>
<g fill="none" stroke-width="1.8">
<path d="M253.7,274.7 L253.7,312.1" stroke="#2a9045"/>
<circle cx="253.7" cy="287.2" r="0.75" fill="#1f8a3f" stroke="none"/>
<circle cx="253.7" cy="299.6" r="0.75" fill="#1f8a3f" stroke="none"/>
<path d="M295.5,274.7 L295.5,312.1" stroke="#2a9045"/>
<circle cx="295.5" cy="287.2" r="0.75" fill="#1f8a3f" stroke="none"/>
<circle cx="295.5" cy="299.6" r="0.75" fill="#1f8a3f" stroke="none"/>
<path d="M353.0,274.7 L353.0,312.1" stroke="#2a9045"/>
<circle cx="353.0" cy="287.2" r="0.75" fill="#1f8a3f" stroke="none"/>
<circle cx="353.0" cy="299.6" r="0.75" fill="#1f8a3f" stroke="none"/>
<path d="M487.9,274.7 L487.9,312.1" stroke="#2a9045"/>
<circle cx="487.9" cy="287.2" r="0.75" fill="#1f8a3f" stroke="none"/>
<circle cx="487.9" cy="299.6" r="0.75" fill="#1f8a3f" stroke="none"/>
<path d="M501.0,274.7 L501.0,287.2 L493.7,299.6 L493.7,312.1" stroke="#2a9045"/>
<path d="M563.7,274.7 L563.7,312.1" stroke="#2a9045"/>
<circle cx="563.7" cy="287.2" r="0.75" fill="#1f8a3f" stroke="none"/>
<circle cx="563.7" cy="299.6" r="0.75" fill="#1f8a3f" stroke="none"/>
<path d="M582.0,274.7 L582.0,312.1" stroke="#2a9045"/>
<circle cx="582.0" cy="287.2" r="0.75" fill="#1f8a3f" stroke="none"/>
<circle cx="582.0" cy="299.6" r="0.75" fill="#1f8a3f" stroke="none"/>
<path d="M661.2,222.7 L661.2,259.6" stroke="#2a9045"/>
<circle cx="661.2" cy="235.0" r="0.75" fill="#1f8a3f" stroke="none"/>
<circle cx="661.2" cy="247.3" r="0.75" fill="#1f8a3f" stroke="none"/>
<path d="M674.7,222.7 L674.7,235.0 L668.9,247.3 L668.9,259.6" stroke="#2a9045"/>
<path d="M687.7,222.7 L687.7,235.0 L686.1,247.3 L686.1,259.6" stroke="#2a9045"/>
<path d="M727.5,223.0 L727.5,260.0" stroke="#2a9045"/>
<circle cx="727.5" cy="235.3" r="0.75" fill="#1f8a3f" stroke="none"/>
<circle cx="727.5" cy="247.7" r="0.75" fill="#1f8a3f" stroke="none"/>
<path d="M740.8,223.0 L740.8,235.3 L737.7,247.7 L737.7,260.0" stroke="#2a9045"/>
<path d="M755.6,223.0 L755.6,260.0" stroke="#2a9045"/>
<circle cx="755.6" cy="235.3" r="0.75" fill="#1f8a3f" stroke="none"/>
<circle cx="755.6" cy="247.7" r="0.75" fill="#1f8a3f" stroke="none"/>
<path d="M769.1,122.9 L769.1,135.1 L767.8,147.3 L767.8,159.5" stroke="#2a9045"/>
<path d="M782.0,122.9 L782.0,159.5" stroke="#2a9045"/>
<circle cx="782.0" cy="135.1" r="0.75" fill="#1f8a3f" stroke="none"/>
<circle cx="782.0" cy="147.3" r="0.75" fill="#1f8a3f" stroke="none"/>
<path d="M795.4,64.0 L795.4,100.6" stroke="#2a9045"/>
<circle cx="795.4" cy="76.2" r="0.75" fill="#1f8a3f" stroke="none"/>
<circle cx="795.4" cy="88.4" r="0.75" fill="#1f8a3f" stroke="none"/>
<path d="M808.9,64.0 L808.9,76.2 L805.8,88.4 L805.8,100.6" stroke="#2a9045"/>
<path d="M822.0,64.0 L822.0,76.2 L817.2,88.4 L817.2,100.6" stroke="#2a9045"/>
<path d="M835.6,64.0 L835.6,76.2 L832.0,88.4 L832.0,100.6" stroke="#2a9045"/>
<path d="M903.0,63.9 L903.0,76.1 L915.2,88.4 L915.2,100.6" stroke="#2a9045"/>
<path d="M915.9,63.9 L915.9,76.1 L919.1,88.4 L919.1,100.6" stroke="#2a9045"/>
<path d="M934.4,96.0 L934.4,108.9 L954.7,121.8 L954.7,134.7" stroke="#2a9045"/>
<path d="M947.4,97.6 L947.4,110.0 L960.9,122.3 L960.9,134.7" stroke="#2a9045"/>
<path d="M851.9,199.3 L851.9,211.7 L850.1,224.1 L850.1,236.5" stroke="#2a9045"/>
<path d="M864.6,199.3 L864.6,236.5" stroke="#2a9045"/>
<circle cx="864.6" cy="211.7" r="0.75" fill="#1f8a3f" stroke="none"/>
<circle cx="864.6" cy="224.1" r="0.75" fill="#1f8a3f" stroke="none"/>
<path d="M264.2,955.9 L264.2,993.3" stroke="#e63c47"/>
<circle cx="264.2" cy="968.4" r="0.75" fill="#e22a35" stroke="none"/>
<circle cx="264.2" cy="980.8" r="0.75" fill="#e22a35" stroke="none"/>
<path d="M352.5,955.9 L352.5,993.3" stroke="#e63c47"/>
<circle cx="352.5" cy="968.4" r="0.75" fill="#e22a35" stroke="none"/>
<circle cx="352.5" cy="980.8" r="0.75" fill="#e22a35" stroke="none"/>
<path d="M370.1,955.9 L370.1,993.3" stroke="#e63c47"/>
<circle cx="370.1" cy="968.4" r="0.75" fill="#e22a35" stroke="none"/>
<circle cx="370.1" cy="980.8" r="0.75" fill="#e22a35" stroke="none"/>
<path d="M651.8,1075.3 L651.8,1111.5" stroke="#e63c47"/>
<circle cx="651.8" cy="1087.4" r="0.75" fill="#e22a35" stroke="none"/>
<circle cx="651.8" cy="1099.4" r="0.75" fill="#e22a35" stroke="none"/>
<path d="M679.8,900.2 L679.8,937.1" stroke="#e63c47"/>
<circle cx="679.8" cy="912.5" r="0.75" fill="#e22a35" stroke="none"/>
<circle cx="679.8" cy="924.8" r="0.75" fill="#e22a35" stroke="none"/>
<path d="M702.4,893.7 L702.4,931.5" stroke="#e63c47"/>
<circle cx="702.4" cy="906.3" r="0.75" fill="#e22a35" stroke="none"/>
<circle cx="702.4" cy="918.9" r="0.75" fill="#e22a35" stroke="none"/>
<path d="M728.4,955.1 L728.4,992.0" stroke="#e63c47"/>
<circle cx="728.4" cy="967.4" r="0.75" fill="#e22a35" stroke="none"/>
<circle cx="728.4" cy="979.7" r="0.75" fill="#e22a35" stroke="none"/>
<path d="M746.9,955.1 L746.9,992.0" stroke="#e63c47"/>
<circle cx="746.9" cy="967.4" r="0.75" fill="#e22a35" stroke="none"/>
<circle cx="746.9" cy="979.7" r="0.75" fill="#e22a35" stroke="none"/>
<path d="M760.3,1009.6 L760.3,1046.5" stroke="#e63c47"/>
<circle cx="760.3" cy="1021.9" r="0.75" fill="#e22a35" stroke="none"/>
<circle cx="760.3" cy="1034.2" r="0.75" fill="#e22a35" stroke="none"/>
<path d="M773.9,1009.6 L773.9,1046.5" stroke="#e63c47"/>
<circle cx="773.9" cy="1021.9" r="0.75" fill="#e22a35" stroke="none"/>
<circle cx="773.9" cy="1034.2" r="0.75" fill="#e22a35" stroke="none"/>
<path d="M789.9,914.7 L789.9,927.1 L782.7,939.6 L782.7,952.0" stroke="#e63c47"/>
<path d="M800.9,916.4 L800.9,953.2" stroke="#e63c47"/>
<circle cx="800.9" cy="928.7" r="0.75" fill="#e22a35" stroke="none"/>
<circle cx="800.9" cy="940.9" r="0.75" fill="#e22a35" stroke="none"/>
<path d="M832.0,858.9 L832.0,871.2" stroke="#e63c47"/>
<circle cx="832.0" cy="863.0" r="0.75" fill="#e22a35" stroke="none"/>
<circle cx="832.0" cy="867.1" r="0.75" fill="#e22a35" stroke="none"/>
<path d="M954.8,838.0 L954.8,875.3" stroke="#e63c47"/>
<circle cx="954.8" cy="850.4" r="0.75" fill="#e22a35" stroke="none"/>
<circle cx="954.8" cy="862.9" r="0.75" fill="#e22a35" stroke="none"/>
<path d="M968.0,838.0 L968.0,850.4 L959.4,862.9 L959.4,875.3" stroke="#e63c47"/>
</g>
<text class="lb" transform="translate(259.97,270.14) scale(1.12,1) rotate(-90)">3258.34</text>
<text class="lb" transform="translate(301.47,270.14) scale(1.12,1) rotate(-90)">3097.09</text>
<text class="lb" transform="translate(358.87,270.31) scale(1.12,1) rotate(-90)">2873.23</text>
<text class="lb" transform="translate(492.97,270.31) scale(1.12,1) rotate(-90)">2349.51</text>
<text class="lb" transform="translate(506.47,270.31) scale(1.12,1) rotate(-90)">2325.01</text>
<text class="lb" transform="translate(569.77,270.31) scale(1.12,1) rotate(-90)">2051.92</text>
<text class="lb" transform="translate(587.97,270.68) scale(1.12,1) rotate(-90)">1982.50</text>
<text class="lb" transform="translate(666.77,218.08) scale(1.12,1) rotate(-90)">1651.23</text>
<text class="lb" transform="translate(679.97,218.08) scale(1.12,1) rotate(-90)">1620.78</text>
<text class="lb" transform="translate(693.67,218.08) scale(1.12,1) rotate(-90)">1555.61</text>
<text class="lb" transform="translate(732.97,218.28) scale(1.12,1) rotate(-90)">1416.37</text>
<text class="lb" transform="translate(746.47,218.28) scale(1.12,1) rotate(-90)">1374.98</text>
<text class="lb" transform="translate(761.97,218.28) scale(1.12,1) rotate(-90)">1307.14</text>
<text class="lb" transform="translate(774.47,117.98) scale(1.12,1) rotate(-90)">1259.41</text>
<text class="lb" transform="translate(788.87,117.98) scale(1.12,1) rotate(-90)">1203.63</text>
<text class="lb" transform="translate(801.07,59.28) scale(1.12,1) rotate(-90)">1153.73</text>
<text class="lb" transform="translate(814.67,59.28) scale(1.12,1) rotate(-90)">1112.08</text>
<text class="lb" transform="translate(828.17,59.28) scale(1.12,1) rotate(-90)">1066.84</text>
<text class="lb" transform="translate(841.37,59.28) scale(1.12,1) rotate(-90)">1009.37</text>
<text class="lb" transform="translate(908.47,52.02) scale(1.12,1) rotate(-90)">686.66</text>
<text class="lb" transform="translate(923.47,52.02) scale(1.12,1) rotate(-90)">671.65</text>
<text class="lb" transform="translate(939.47,90.67) scale(1.12,1) rotate(-90)">552.06</text>
<text class="lb" transform="translate(953.47,90.97) scale(1.12,1) rotate(-90)">527.76</text>
<text class="lb" transform="translate(856.77,188.57) scale(1.12,1) rotate(-90)">952.16</text>
<text class="lb" transform="translate(870.87,188.51) scale(1.12,1) rotate(-90)">895.46</text>
<text class="lb" transform="translate(270.17,953.14) scale(1.12,1) rotate(-90)">3271.92</text>
<text class="lb" transform="translate(358.57,953.31) scale(1.12,1) rotate(-90)">2922.45</text>
<text class="lb" transform="translate(376.97,953.31) scale(1.12,1) rotate(-90)">2853.15</text>
<text class="lb" transform="translate(657.77,1070.68) scale(1.12,1) rotate(-90)">1719.51</text>
<text class="lb" transform="translate(685.97,896.18) scale(1.12,1) rotate(-90)">1630.22</text>
<text class="lb" transform="translate(708.27,891.18) scale(1.12,1) rotate(-90)">1536.77</text>
<text class="lb" transform="translate(735.29,951.38) scale(1.12,1) rotate(-90)">1451.17</text>
<text class="lb" transform="translate(753.47,951.38) scale(1.12,1) rotate(-90)">1375.24</text>
<text class="lb" transform="translate(766.37,1005.88) scale(1.12,1) rotate(-90)">1311.02</text>
<text class="lb" transform="translate(780.37,1005.88) scale(1.12,1) rotate(-90)">1257.67</text>
<text class="lb" transform="translate(792.57,914.18) scale(1.12,1) rotate(-90)">1231.64</text>
<text class="lb" transform="translate(806.97,911.58) scale(1.12,1) rotate(-90)">1152.97</text>
<text class="lb" transform="translate(838.37,853.98) scale(1.12,1) rotate(-90)">1028.41</text>
<text class="lb" transform="translate(960.27,828.57) scale(1.12,1) rotate(-90)">515.34</text>
<text class="lb" transform="translate(973.77,828.33) scale(1.12,1) rotate(-90)">495.20</text>
<g>
<path d="M63,666.5 L989.2,666.5" class="ax"/>
<path d="M191.6,666.5 L191.6,675.3" class="ax"/>
<text class="tk" transform="translate(174.09,696.36) scale(1.12,1)" style="font-size:14.1px">3500</text>
<path d="M320.3,666.5 L320.3,675.3" class="ax"/>
<text class="tk" transform="translate(302.73,696.36) scale(1.12,1)" style="font-size:14.1px">3000</text>
<path d="M448.9,666.5 L448.9,675.3" class="ax"/>
<text class="tk" transform="translate(431.27,696.36) scale(1.12,1)" style="font-size:14.1px">2500</text>
<path d="M577.6,666.5 L577.6,675.3" class="ax"/>
<text class="tk" transform="translate(559.91,696.36) scale(1.12,1)" style="font-size:14.1px">2000</text>
<path d="M706.2,666.5 L706.2,675.3" class="ax"/>
<text class="tk" transform="translate(688.35,696.36) scale(1.12,1)" style="font-size:14.1px">1500</text>
<path d="M834.8,666.5 L834.8,675.3" class="ax"/>
<text class="tk" transform="translate(816.99,696.36) scale(1.12,1)" style="font-size:14.1px">1000</text>
<path d="M963.5,666.5 L963.5,675.3" class="ax"/>
<text class="tk" transform="translate(950.30,696.36) scale(1.12,1)" style="font-size:14.1px">500</text>
<path d="M79,1239 L991.6,1239" class="ax"/>
<path d="M205.7,1239 L205.7,1247.8" class="ax"/>
<text class="tk" transform="translate(187.23,1267.56) scale(1.1,1)" style="font-size:13.9px">3500</text>
<path d="M332.4,1239 L332.4,1247.8" class="ax"/>
<text class="tk" transform="translate(313.95,1267.56) scale(1.1,1)" style="font-size:13.9px">3000</text>
<path d="M459.2,1239 L459.2,1247.8" class="ax"/>
<text class="tk" transform="translate(440.57,1267.56) scale(1.1,1)" style="font-size:13.9px">2500</text>
<path d="M585.9,1239 L585.9,1247.8" class="ax"/>
<text class="tk" transform="translate(567.29,1267.56) scale(1.1,1)" style="font-size:13.9px">2000</text>
<path d="M712.6,1239 L712.6,1247.8" class="ax"/>
<text class="tk" transform="translate(693.81,1267.56) scale(1.1,1)" style="font-size:13.9px">1500</text>
<path d="M839.3,1239 L839.3,1247.8" class="ax"/>
<text class="tk" transform="translate(820.53,1267.56) scale(1.1,1)" style="font-size:13.9px">1000</text>
<path d="M966.0,1239 L966.0,1247.8" class="ax"/>
<text class="tk" transform="translate(951.78,1267.56) scale(1.1,1)" style="font-size:13.9px">500</text>
</g>
<text class="ti" transform="translate(43.35,72.40) scale(0.9689,1)" style="font-size:39.13px" ><tspan style="font-weight:bold">A</tspan></text>
<text class="ti" transform="translate(44.24,820.40) scale(0.9643,1)" style="font-size:39.27px" ><tspan style="font-weight:bold">B</tspan></text>
<text class="nm" transform="translate(368.45,404.63) scale(1.0735,1)" style="font-size:26.80px" ><tspan style="font-weight:bold">Control Chitin</tspan></text>
<text class="nm" transform="translate(404.57,595.23) scale(1.0760,1)" style="font-size:26.53px" ><tspan style="font-weight:bold;font-style:italic">Cherax</tspan><tspan style="font-weight:bold"> IM</tspan></text>
<text class="nm" transform="translate(390.57,1145.93) scale(1.0752,1)" style="font-size:26.67px" ><tspan style="font-weight:bold;font-style:italic">Cherax</tspan><tspan style="font-weight:bold"> SM</tspan></text>
<text class="xl" transform="translate(454.07,719.76) scale(1.2068,1)" style="font-size:13.74px" >Wavenumber cm-1</text>
<text class="xl" transform="translate(464.02,1290.77) scale(1.1768,1)" style="font-size:13.33px" >Wavenumber cm-1</text>
<text class="yl" transform="translate(50.13,548.43) scale(1.1053,1) rotate(-90)" style="font-size:15.63px">Absorbance Units</text>
<text class="yl" transform="translate(57.13,1126.33) scale(1.1657,1) rotate(-90)" style="font-size:14.59px">Absorbance Units</text>
<rect x="5" y="4.5" width="1014.5" height="2.7" fill="#000"/>
<rect x="5" y="4.5" width="3" height="1294.5" fill="#000"/>
<rect x="1016.8" y="4.5" width="2.7" height="1294.5" fill="#000"/>
<rect x="5" y="1296" width="1014.5" height="3" fill="#000"/>
<rect x="5" y="747" width="1014.5" height="2.8" fill="#000"/>
</svg>
</body></html>
